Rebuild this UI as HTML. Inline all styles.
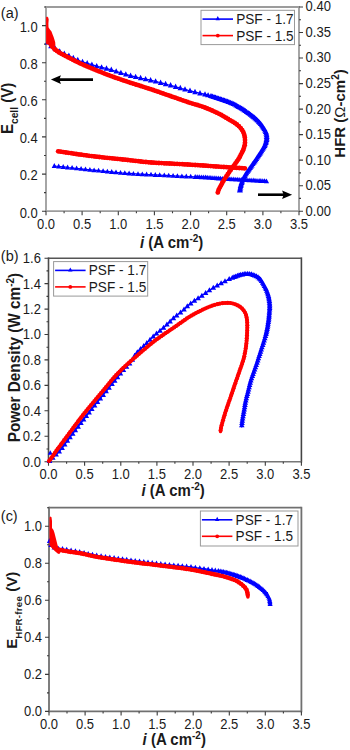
<!DOCTYPE html>
<html><head><meta charset="utf-8"><title>Figure</title>
<style>html,body{margin:0;padding:0;background:#fff;width:350px;height:750px;overflow:hidden}svg{display:block;font-family:"Liberation Sans",sans-serif}</style>
</head><body><svg width="350" height="750" viewBox="0 0 350 750" font-family="Liberation Sans, sans-serif"><path d="M46.0 6.1V212.1" stroke="#9c9c9c" stroke-width="1.8"/><path d="M299.0 6.1V212.1" stroke="#9c9c9c" stroke-width="1.8"/><path d="M46.0 7.0H299.0" stroke="#9c9c9c" stroke-width="1.8"/><path d="M46.0 211.2H299.0" stroke="#9c9c9c" stroke-width="1.8"/><path d="M46.0 211.2V215.2M64.1 211.2V213.2M82.1 211.2V215.2M100.2 211.2V213.2M118.3 211.2V215.2M136.4 211.2V213.2M154.4 211.2V215.2M172.5 211.2V213.2M190.6 211.2V215.2M208.6 211.2V213.2M226.7 211.2V215.2M244.8 211.2V213.2M262.9 211.2V215.2M280.9 211.2V213.2M299.0 211.2V215.2M46.0 211.2H42.0M46.0 192.6H44.0M46.0 174.1H42.0M46.0 155.5H44.0M46.0 136.9H42.0M46.0 118.4H44.0M46.0 99.8H42.0M46.0 81.3H44.0M46.0 62.7H42.0M46.0 44.1H44.0M46.0 25.6H42.0M46.0 7.0H44.0M299.0 211.2H303.0M299.0 198.4H301.0M299.0 185.7H303.0M299.0 172.9H301.0M299.0 160.1H303.0M299.0 147.4H301.0M299.0 134.6H303.0M299.0 121.9H301.0M299.0 109.1H303.0M299.0 96.3H301.0M299.0 83.6H303.0M299.0 70.8H301.0M299.0 58.0H303.0M299.0 45.3H301.0M299.0 32.5H303.0M299.0 19.8H301.0M299.0 7.0H303.0" stroke="#3a3a3a" stroke-width="1.1" fill="none"/><text transform="translate(46.00,228.50) scale(1,1.070)" font-size="13.0" text-anchor="middle" fill="#1a1a1a" >0.0</text><text transform="translate(82.14,228.50) scale(1,1.070)" font-size="13.0" text-anchor="middle" fill="#1a1a1a" >0.5</text><text transform="translate(118.29,228.50) scale(1,1.070)" font-size="13.0" text-anchor="middle" fill="#1a1a1a" >1.0</text><text transform="translate(154.43,228.50) scale(1,1.070)" font-size="13.0" text-anchor="middle" fill="#1a1a1a" >1.5</text><text transform="translate(190.57,228.50) scale(1,1.070)" font-size="13.0" text-anchor="middle" fill="#1a1a1a" >2.0</text><text transform="translate(226.71,228.50) scale(1,1.070)" font-size="13.0" text-anchor="middle" fill="#1a1a1a" >2.5</text><text transform="translate(262.86,228.50) scale(1,1.070)" font-size="13.0" text-anchor="middle" fill="#1a1a1a" >3.0</text><text transform="translate(299.00,228.50) scale(1,1.070)" font-size="13.0" text-anchor="middle" fill="#1a1a1a" >3.5</text><text transform="translate(37.70,217.50) scale(1,1.070)" font-size="13.0" text-anchor="end" fill="#1a1a1a" >0.0</text><text transform="translate(37.70,180.37) scale(1,1.070)" font-size="13.0" text-anchor="end" fill="#1a1a1a" >0.2</text><text transform="translate(37.70,143.25) scale(1,1.070)" font-size="13.0" text-anchor="end" fill="#1a1a1a" >0.4</text><text transform="translate(37.70,106.12) scale(1,1.070)" font-size="13.0" text-anchor="end" fill="#1a1a1a" >0.6</text><text transform="translate(37.70,68.99) scale(1,1.070)" font-size="13.0" text-anchor="end" fill="#1a1a1a" >0.8</text><text transform="translate(37.70,31.86) scale(1,1.070)" font-size="13.0" text-anchor="end" fill="#1a1a1a" >1.0</text><text transform="translate(305.60,215.60) scale(1,1.070)" font-size="13.0" text-anchor="start" fill="#1a1a1a" >0.00</text><text transform="translate(305.60,190.07) scale(1,1.070)" font-size="13.0" text-anchor="start" fill="#1a1a1a" >0.05</text><text transform="translate(305.60,164.55) scale(1,1.070)" font-size="13.0" text-anchor="start" fill="#1a1a1a" >0.10</text><text transform="translate(305.60,139.03) scale(1,1.070)" font-size="13.0" text-anchor="start" fill="#1a1a1a" >0.15</text><text transform="translate(305.60,113.50) scale(1,1.070)" font-size="13.0" text-anchor="start" fill="#1a1a1a" >0.20</text><text transform="translate(305.60,87.98) scale(1,1.070)" font-size="13.0" text-anchor="start" fill="#1a1a1a" >0.25</text><text transform="translate(305.60,62.45) scale(1,1.070)" font-size="13.0" text-anchor="start" fill="#1a1a1a" >0.30</text><text transform="translate(305.60,36.93) scale(1,1.070)" font-size="13.0" text-anchor="start" fill="#1a1a1a" >0.35</text><text transform="translate(305.60,11.40) scale(1,1.070)" font-size="13.0" text-anchor="start" fill="#1a1a1a" >0.40</text><text transform="translate(0.80,18.40) scale(1,1.050)" font-size="14.5" text-anchor="start" fill="#1a1a1a" >(a)</text><g fill="#0000ff"><polyline points="47.8,42.3 47.9,42.4 48.0,42.6 48.1,42.8 48.2,43.0 48.4,43.2 48.5,43.5 48.7,43.8 48.9,44.0 49.1,44.3 49.4,44.6 49.7,44.9 50.0,45.2 50.4,45.5 50.8,45.8 51.3,46.2 51.8,46.5 52.3,46.9 52.9,47.3 53.4,47.7 54.0,48.0 54.6,48.4 55.1,48.7 55.6,49.0 56.0,49.3 56.4,49.5 56.7,49.8 57.0,49.9 57.3,50.1 57.5,50.3 57.8,50.4 58.0,50.6 58.3,50.7 58.6,50.9 59.0,51.1 59.5,51.3 60.0,51.6 60.6,51.9 61.3,52.3 62.1,52.6 62.9,53.0 63.7,53.4 64.6,53.9 65.5,54.3 66.4,54.7 67.4,55.2 68.3,55.6 69.1,56.0 70.0,56.4 70.8,56.8 71.7,57.2 72.5,57.6 73.3,58.0 74.2,58.4 75.0,58.8 75.8,59.2 76.7,59.6 77.5,60.0 78.3,60.3 79.2,60.7 80.0,61.0 80.8,61.3 81.7,61.6 82.5,61.9 83.3,62.2 84.2,62.5 85.0,62.7 85.8,63.0 86.7,63.2 87.5,63.5 88.3,63.7 89.2,64.0 90.0,64.2 90.8,64.4 91.7,64.7 92.5,64.9 93.3,65.2 94.2,65.4 95.0,65.6 95.8,65.9 96.7,66.1 97.5,66.3 98.3,66.6 99.2,66.8 100.0,67.0 100.8,67.2 101.6,67.4 102.3,67.6 103.0,67.7 103.7,67.9 104.4,68.0 105.1,68.2 105.9,68.4 106.8,68.6 107.8,68.9 108.8,69.2 110.0,69.5 111.3,69.9 112.8,70.3 114.3,70.8 115.9,71.3 117.6,71.9 119.4,72.4 121.2,73.0 123.0,73.6 124.8,74.1 126.6,74.6 128.3,75.1 130.0,75.6 131.7,76.0 133.3,76.4 135.0,76.8 136.7,77.2 138.3,77.6 140.0,77.9 141.7,78.3 143.3,78.6 145.0,79.0 146.7,79.3 148.3,79.7 150.0,80.1 151.7,80.5 153.3,80.9 155.0,81.3 156.7,81.7 158.3,82.2 160.0,82.6 161.7,83.0 163.3,83.4 165.0,83.9 166.7,84.3 168.3,84.8 170.0,85.2 171.7,85.7 173.3,86.1 175.0,86.6 176.7,87.1 178.3,87.5 180.0,88.0 181.7,88.5 183.3,89.0 185.0,89.4 186.7,89.9 188.3,90.4 190.0,90.8 191.7,91.2 193.3,91.6 195.0,92.1 196.7,92.4 198.3,92.8 200.0,93.2 201.7,93.6 203.3,94.0 205.0,94.4 206.7,94.9 208.3,95.3 210.0,95.8 211.7,96.3 213.4,96.8 215.2,97.4 217.0,98.0 218.8,98.6 220.6,99.1 222.4,99.7 224.1,100.3 225.7,100.9 227.2,101.5 228.7,102.0 230.0,102.5 231.2,103.0 232.2,103.4 233.2,103.8 234.1,104.2 234.9,104.6 235.6,105.0 236.3,105.4 237.0,105.8 237.7,106.2 238.4,106.6 239.2,107.0 240.0,107.5 240.8,108.0 241.7,108.5 242.5,109.1 243.4,109.6 244.3,110.2 245.1,110.7 246.0,111.3 246.8,111.9 247.6,112.5 248.4,113.1 249.2,113.6 250.0,114.2 250.7,114.8 251.5,115.3 252.2,115.9 252.9,116.5 253.6,117.1 254.3,117.6 255.0,118.2 255.6,118.8 256.3,119.4 256.9,119.9 257.4,120.5 258.0,121.0 258.5,121.5 259.0,122.1 259.5,122.6 260.0,123.1 260.4,123.6 260.8,124.1 261.2,124.6 261.6,125.1 262.0,125.6 262.3,126.0 262.7,126.5 263.0,127.0 263.3,127.5 263.6,127.9 263.9,128.4 264.2,128.9 264.5,129.3 264.8,129.8 265.0,130.2 265.2,130.7 265.5,131.1 265.7,131.6 265.8,132.0 266.0,132.5 266.1,133.0 266.3,133.4 266.4,133.9 266.5,134.3 266.6,134.8 266.6,135.2 266.7,135.7 266.7,136.1 266.7,136.6 266.7,137.1 266.7,137.5 266.7,138.0 266.7,138.5 266.6,139.0 266.5,139.5 266.5,140.0 266.4,140.5 266.2,141.0 266.1,141.5 266.0,142.0 265.8,142.5 265.7,143.0 265.5,143.5 265.3,144.0 265.1,144.5 264.9,145.0 264.7,145.4 264.5,145.9 264.2,146.3 264.0,146.8 263.7,147.2 263.4,147.7 263.1,148.2 262.8,148.8 262.4,149.4 262.0,150.0 261.6,150.7 261.1,151.4 260.6,152.2 260.1,153.0 259.5,153.9 259.0,154.8 258.4,155.6 257.8,156.5 257.2,157.4 256.6,158.3 256.1,159.2 255.5,160.0 254.9,160.8 254.3,161.7 253.7,162.6 253.1,163.4 252.5,164.3 251.9,165.2 251.3,166.0 250.7,166.9 250.1,167.7 249.5,168.5 249.0,169.3 248.5,170.0 248.0,170.7 247.6,171.4 247.1,172.0 246.7,172.6 246.3,173.2 246.0,173.8 245.6,174.3 245.3,174.9 244.9,175.4 244.6,175.9 244.3,176.5 244.0,177.0 243.7,177.5 243.5,178.1 243.2,178.6 243.0,179.1 242.8,179.6 242.6,180.2 242.4,180.7 242.2,181.1 242.1,181.6 241.9,182.1 241.8,182.6 241.6,183.0 241.5,183.4 241.3,183.8 241.2,184.3 241.1,184.6 241.0,185.0 240.9,185.4 240.8,185.8 240.7,186.1 240.6,186.5 240.5,186.8 240.5,187.2 240.4,187.5 240.3,187.8 240.3,188.2 240.2,188.5 240.2,188.9 240.1,189.2 240.1,189.5 240.0,189.8 240.0,190.1 240.0,190.4 239.9,190.6 239.9,190.8 239.9,191.0" fill="none" stroke="#0000ff" stroke-width="1.3" stroke-linejoin="round"/><path d="M47.8 39.1L50.6 44.5L45.0 44.5ZM51.0 42.8L53.8 48.2L48.2 48.2ZM55.3 45.6L58.1 51.0L52.5 51.0ZM59.7 48.2L62.5 53.6L56.9 53.6ZM64.3 50.5L67.1 55.9L61.5 55.9ZM68.9 52.6L71.7 58.0L66.1 58.0ZM73.3 54.8L76.1 60.2L70.5 60.2ZM77.8 56.8L80.6 62.2L75.0 62.2ZM82.5 58.7L85.3 64.1L79.7 64.1ZM87.2 60.1L90.0 65.5L84.4 65.5ZM91.9 61.5L94.7 66.9L89.1 66.9ZM96.7 62.9L99.5 68.3L93.9 68.3ZM101.6 64.2L104.4 69.6L98.8 69.6ZM106.5 65.3L109.3 70.7L103.7 70.7ZM111.3 66.6L114.1 72.0L108.5 72.0ZM116.2 68.2L119.0 73.6L113.4 73.6ZM120.9 69.7L123.7 75.1L118.1 75.1ZM125.8 71.2L128.6 76.6L123.0 76.6ZM130.6 72.5L133.4 77.9L127.8 77.9ZM135.6 73.7L138.4 79.1L132.8 79.1ZM140.6 74.8L143.4 80.2L137.8 80.2ZM145.6 75.9L148.4 81.3L142.8 81.3ZM150.6 77.0L153.4 82.4L147.8 82.4ZM155.6 78.2L158.4 83.6L152.8 83.6ZM160.6 79.5L163.4 84.9L157.8 84.9ZM165.6 80.8L168.4 86.2L162.8 86.2ZM170.6 82.1L173.4 87.5L167.8 87.5ZM175.6 83.5L178.4 88.9L172.8 88.9ZM180.3 84.8L183.1 90.2L177.5 90.2ZM185.0 86.2L187.8 91.6L182.2 91.6ZM190.0 87.6L192.8 93.0L187.2 93.0ZM195.0 88.8L197.8 94.2L192.2 94.2ZM200.0 90.0L202.8 95.4L197.2 95.4ZM205.0 91.2L207.8 96.6L202.2 96.6ZM208.1 92.3L211.1 97.3L205.1 97.3ZM211.0 93.1L214.0 98.1L208.0 98.1ZM212.4 93.5L215.4 98.5L209.4 98.5ZM214.0 94.0L217.0 99.0L211.0 99.0ZM215.5 94.5L218.5 99.5L212.5 99.5ZM217.0 95.0L220.0 100.0L214.0 100.0ZM218.6 95.5L221.6 100.5L215.6 100.5ZM220.1 96.0L223.1 101.0L217.1 101.0ZM221.6 96.5L224.6 101.5L218.6 101.5ZM223.1 97.0L226.1 102.0L220.1 102.0ZM224.6 97.5L227.6 102.5L221.6 102.5ZM226.0 98.0L229.0 103.0L223.0 103.0ZM227.5 98.6L230.5 103.6L224.5 103.6ZM228.9 99.1L231.9 104.1L225.9 104.1ZM230.5 99.7L233.5 104.7L227.5 104.7ZM232.0 100.3L235.0 105.3L229.0 105.3ZM233.5 101.0L236.5 106.0L230.5 106.0ZM234.9 101.6L237.9 106.6L231.9 106.6ZM236.3 102.4L239.3 107.4L233.3 107.4ZM237.7 103.2L240.7 108.2L234.7 108.2ZM238.9 103.9L241.9 108.9L235.9 108.9ZM240.3 104.7L243.3 109.7L237.3 109.7ZM241.7 105.5L244.7 110.5L238.7 110.5ZM243.0 106.3L246.0 111.3L240.0 111.3ZM244.3 107.2L247.3 112.2L241.3 112.2ZM245.6 108.0L248.6 113.0L242.6 113.0ZM246.8 108.9L249.8 113.9L243.8 113.9ZM248.2 109.9L251.2 114.9L245.2 114.9ZM249.5 110.8L252.5 115.8L246.5 115.8ZM250.7 111.8L253.7 116.8L247.7 116.8ZM252.0 112.7L255.0 117.7L249.0 117.7ZM253.2 113.7L256.2 118.7L250.2 118.7ZM254.3 114.6L257.3 119.6L251.3 119.6ZM255.4 115.6L258.4 120.6L252.4 120.6ZM256.5 116.5L259.5 121.5L253.5 121.5ZM257.6 117.6L260.6 122.6L254.6 122.6ZM258.8 118.8L261.8 123.8L255.8 123.8ZM259.7 119.8L262.7 124.8L256.7 124.8ZM260.8 121.1L263.8 126.1L257.8 126.1ZM261.8 122.3L264.8 127.3L258.8 127.3ZM262.7 123.5L265.7 128.5L259.7 128.5ZM263.5 124.7L266.5 129.7L260.5 129.7ZM264.4 126.1L267.4 131.1L261.4 131.1ZM265.1 127.5L268.1 132.5L262.1 132.5ZM265.8 129.0L268.8 134.0L262.8 134.0ZM266.3 130.4L269.3 135.4L263.3 135.4ZM266.6 132.2L269.6 137.2L263.6 137.2ZM266.7 134.1L269.7 139.1L263.7 139.1ZM266.7 135.5L269.7 140.5L263.7 140.5ZM266.5 137.0L269.5 142.0L263.5 142.0ZM266.1 138.5L269.1 143.5L263.1 143.5ZM265.7 140.0L268.7 145.0L262.7 145.0ZM265.1 141.5L268.1 146.5L262.1 146.5ZM264.5 142.9L267.5 147.9L261.5 147.9ZM263.7 144.2L266.7 149.2L260.7 149.2ZM262.9 145.5L265.9 150.5L259.9 150.5ZM262.1 146.8L265.1 151.8L259.1 151.8ZM261.3 148.2L264.3 153.2L258.3 153.2ZM260.4 149.5L263.4 154.5L257.4 154.5ZM259.7 150.7L262.7 155.7L256.7 155.7ZM258.8 152.0L261.8 157.0L255.8 157.0ZM258.0 153.3L261.0 158.3L255.0 158.3ZM257.1 154.6L260.1 159.6L254.1 159.6ZM256.2 155.9L259.2 160.9L253.2 160.9ZM255.4 157.2L258.4 162.2L252.4 162.2ZM254.5 158.5L257.5 163.5L251.5 163.5ZM253.6 159.8L256.6 164.8L250.6 164.8ZM252.6 161.1L255.6 166.1L249.6 166.1ZM251.7 162.4L254.7 167.4L248.7 167.4ZM250.8 163.7L253.8 168.7L247.8 168.7ZM249.9 165.0L252.9 170.0L246.9 170.0ZM249.0 166.3L252.0 171.3L246.0 171.3ZM248.2 167.5L251.2 172.5L245.2 172.5ZM247.3 168.8L250.3 173.8L244.3 173.8ZM246.3 170.2L249.3 175.2L243.3 175.2ZM245.4 171.6L248.4 176.6L242.4 176.6ZM244.6 172.9L247.6 177.9L241.6 177.9ZM243.9 174.3L246.9 179.3L240.9 179.3ZM243.2 175.6L246.2 180.6L240.2 180.6ZM242.7 176.9L245.7 181.9L239.7 181.9ZM242.1 178.4L245.1 183.4L239.1 183.4ZM241.6 180.0L244.6 185.0L238.6 185.0ZM241.1 181.6L244.1 186.6L238.1 186.6ZM240.7 183.1L243.7 188.1L237.7 188.1ZM240.4 184.5L243.4 189.5L237.4 189.5ZM240.1 186.2L243.1 191.2L237.1 191.2ZM239.9 187.6L242.9 192.6L236.9 192.6Z"/></g><g fill="#0000ff"><polyline points="54.3,166.0 55.9,166.2 57.9,166.4 60.3,166.6 63.0,166.9 65.8,167.2 68.9,167.6 72.1,167.9 75.3,168.3 78.6,168.6 81.9,169.0 85.0,169.3 88.0,169.6 90.9,169.9 93.9,170.2 96.8,170.5 99.8,170.8 102.8,171.1 105.9,171.4 108.9,171.7 111.9,172.0 114.9,172.3 118.0,172.6 121.0,172.9 124.0,173.1 127.0,173.3 130.0,173.5 132.9,173.7 135.9,173.9 138.8,174.1 141.8,174.2 144.7,174.4 147.7,174.6 150.7,174.7 153.8,174.9 156.9,175.0 160.0,175.2 163.2,175.4 166.6,175.5 170.1,175.7 173.6,175.9 177.1,176.1 180.7,176.2 184.2,176.4 187.6,176.6 191.0,176.7 194.2,176.9 197.2,177.0 200.0,177.2 202.6,177.3 204.8,177.5 206.9,177.6 208.8,177.8 210.6,177.9 212.4,178.0 214.1,178.2 216.0,178.3 217.9,178.4 220.0,178.6 222.4,178.7 225.0,178.9 228.0,179.1 231.5,179.3 235.3,179.5 239.3,179.7 243.4,180.0 247.6,180.2 251.6,180.4 255.5,180.7 259.1,180.9 262.2,181.0 264.9,181.2 267.0,181.3" fill="none" stroke="#0000ff" stroke-width="1.3" stroke-linejoin="round"/><path d="M54.3 163.1L56.9 167.9L51.7 167.9ZM58.7 163.6L61.3 168.4L56.1 168.4ZM63.2 164.1L65.8 168.9L60.6 168.9ZM67.6 164.6L70.2 169.4L65.0 169.4ZM72.1 165.0L74.7 169.8L69.5 169.8ZM76.6 165.5L79.2 170.3L74.0 170.3ZM81.1 166.0L83.7 170.8L78.5 170.8ZM85.5 166.5L88.1 171.3L82.9 171.3ZM89.9 166.9L92.5 171.7L87.3 171.7ZM94.1 167.4L96.7 172.2L91.5 172.2ZM98.6 167.8L101.2 172.6L96.0 172.6ZM103.1 168.3L105.7 173.1L100.5 173.1ZM107.4 168.7L110.0 173.5L104.8 173.5ZM111.7 169.1L114.3 173.9L109.1 173.9ZM116.0 169.5L118.6 174.3L113.4 174.3ZM120.5 169.9L123.1 174.7L117.9 174.7ZM124.8 170.3L127.4 175.1L122.2 175.1ZM129.1 170.6L131.7 175.4L126.5 175.4ZM133.4 170.9L136.0 175.7L130.8 175.7ZM138.0 171.2L140.6 176.0L135.4 176.0ZM142.3 171.4L144.9 176.2L139.7 176.2ZM146.6 171.6L149.2 176.4L144.0 176.4ZM151.0 171.8L153.6 176.6L148.4 176.6ZM155.3 172.1L157.9 176.9L152.7 176.9ZM159.7 172.3L162.3 177.1L157.1 177.1ZM164.3 172.5L166.9 177.3L161.7 177.3ZM168.7 172.8L171.3 177.6L166.1 177.6ZM173.1 173.0L175.7 177.8L170.5 177.8ZM177.4 173.2L180.0 178.0L174.8 178.0ZM181.9 173.4L184.5 178.2L179.3 178.2ZM186.3 173.6L188.9 178.4L183.7 178.4ZM190.7 173.8L193.3 178.6L188.1 178.6ZM195.2 174.1L197.8 178.9L192.6 178.9ZM197.2 174.2L199.8 179.0L194.6 179.0ZM199.2 174.3L201.8 179.1L196.6 179.1ZM201.3 174.4L203.9 179.2L198.7 179.2ZM203.3 174.5L205.9 179.3L200.7 179.3ZM205.4 174.6L208.0 179.4L202.8 179.4ZM207.2 174.8L209.8 179.6L204.6 179.6ZM209.1 174.9L211.7 179.7L206.5 179.7ZM210.9 175.0L213.5 179.8L208.3 179.8ZM212.9 175.2L215.5 180.0L210.3 180.0ZM214.9 175.3L217.5 180.1L212.3 180.1ZM216.8 175.5L219.4 180.3L214.2 180.3ZM218.7 175.6L221.3 180.4L216.1 180.4ZM220.5 175.7L223.1 180.5L217.9 180.5ZM222.4 175.9L225.0 180.7L219.8 180.7ZM224.2 176.0L226.8 180.8L221.6 180.8ZM226.0 176.1L228.6 180.9L223.4 180.9ZM228.0 176.2L230.6 181.0L225.4 181.0ZM229.9 176.3L232.5 181.1L227.3 181.1ZM231.8 176.4L234.4 181.2L229.2 181.2ZM233.8 176.5L236.4 181.3L231.2 181.3ZM235.8 176.7L238.4 181.5L233.2 181.5ZM237.8 176.8L240.4 181.6L235.2 181.6ZM239.8 176.9L242.4 181.7L237.2 181.7ZM241.6 177.0L244.2 181.8L239.0 181.8ZM243.4 177.1L246.0 181.9L240.8 181.9ZM245.2 177.2L247.8 182.0L242.6 182.0ZM247.0 177.3L249.6 182.1L244.4 182.1ZM249.1 177.4L251.7 182.2L246.5 182.2ZM251.1 177.5L253.7 182.3L248.5 182.3ZM253.2 177.6L255.8 182.4L250.6 182.4ZM255.0 177.7L257.6 182.5L252.4 182.5ZM257.0 177.9L259.6 182.7L254.4 182.7ZM259.1 178.0L261.7 182.8L256.5 182.8ZM260.9 178.1L263.5 182.9L258.3 182.9ZM262.8 178.2L265.4 183.0L260.2 183.0ZM264.6 178.3L267.2 183.1L262.0 183.1ZM266.5 178.4L269.1 183.2L263.9 183.2Z"/></g><polygon points="46.1,17.2 47.0,16.5 48.2,17.4 48.7,19.5 48.4,23.6 48.5,27.3 49.9,29.5 51.5,31.6 52.5,34.3 53.6,36.9 54.4,39.6 55.2,42.3 55.4,44.9 55.2,46.5 56.2,47.4 57.3,48.1 57.6,51.8 55.0,51.6 52.0,49.6 50.0,47.8 48.2,44.6 46.1,44.2" fill="#ff0000"/><g fill="#ff0000"><polyline points="54.8,49.6 55.1,49.8 55.4,50.0 55.8,50.2 56.2,50.5 56.7,50.8 57.1,51.2 57.7,51.5 58.2,51.8 58.7,52.2 59.1,52.5 59.6,52.7 60.0,53.0 60.4,53.2 60.7,53.4 61.0,53.6 61.3,53.8 61.7,54.0 62.0,54.1 62.3,54.3 62.6,54.4 62.9,54.6 63.2,54.8 63.6,55.0 64.0,55.2 64.4,55.4 64.8,55.6 65.3,55.9 65.7,56.1 66.2,56.3 66.6,56.6 67.1,56.8 67.6,57.1 68.2,57.4 68.7,57.7 69.4,58.0 70.0,58.3 70.7,58.7 71.4,59.0 72.2,59.4 73.0,59.9 73.9,60.3 74.8,60.7 75.6,61.2 76.5,61.6 77.4,62.1 78.3,62.5 79.2,62.9 80.0,63.3 80.8,63.7 81.6,64.0 82.3,64.3 83.0,64.6 83.7,64.9 84.4,65.3 85.1,65.6 85.9,65.9 86.8,66.3 87.8,66.7 88.8,67.1 90.0,67.6 91.3,68.1 92.8,68.7 94.3,69.4 95.9,70.1 97.6,70.8 99.4,71.5 101.2,72.2 103.0,72.9 104.8,73.7 106.6,74.4 108.3,75.1 110.0,75.7 111.7,76.3 113.3,76.9 115.0,77.5 116.7,78.1 118.3,78.7 120.0,79.3 121.7,79.8 123.3,80.4 125.0,80.9 126.7,81.5 128.3,82.0 130.0,82.6 131.7,83.1 133.3,83.7 135.0,84.2 136.7,84.8 138.3,85.3 140.0,85.8 141.7,86.3 143.3,86.8 145.0,87.4 146.7,87.9 148.3,88.5 150.0,89.0 151.7,89.6 153.3,90.1 155.0,90.7 156.7,91.3 158.3,91.8 160.0,92.4 161.7,93.0 163.3,93.6 165.0,94.2 166.7,94.7 168.3,95.3 170.0,95.9 171.7,96.5 173.4,97.1 175.2,97.7 177.0,98.3 178.8,99.0 180.6,99.6 182.4,100.2 184.1,100.8 185.7,101.3 187.2,101.9 188.7,102.4 190.0,102.8 191.2,103.2 192.2,103.5 193.2,103.8 194.1,104.1 194.9,104.3 195.6,104.5 196.3,104.7 197.0,104.9 197.7,105.1 198.4,105.3 199.2,105.5 200.0,105.8 200.8,106.1 201.7,106.4 202.5,106.7 203.3,107.0 204.2,107.3 205.0,107.6 205.8,107.9 206.7,108.2 207.5,108.6 208.3,108.9 209.2,109.2 210.0,109.6 210.8,110.0 211.7,110.3 212.5,110.7 213.4,111.1 214.2,111.5 215.1,111.9 215.9,112.3 216.8,112.7 217.6,113.1 218.4,113.5 219.2,113.9 220.0,114.3 220.8,114.7 221.5,115.1 222.3,115.6 223.1,116.0 223.8,116.4 224.5,116.8 225.2,117.3 225.9,117.7 226.6,118.1 227.3,118.5 228.0,118.9 228.6,119.3 229.2,119.7 229.8,120.0 230.4,120.4 231.0,120.7 231.5,121.0 232.1,121.3 232.6,121.7 233.1,122.0 233.6,122.3 234.1,122.6 234.5,122.9 235.0,123.2 235.4,123.5 235.9,123.8 236.3,124.1 236.7,124.4 237.1,124.7 237.5,125.0 237.8,125.3 238.2,125.6 238.5,125.9 238.9,126.2 239.2,126.5 239.5,126.8 239.8,127.1 240.1,127.4 240.4,127.7 240.7,128.0 240.9,128.3 241.2,128.7 241.4,129.0 241.6,129.3 241.9,129.6 242.1,129.9 242.3,130.3 242.5,130.6 242.7,130.9 242.9,131.3 243.1,131.6 243.2,132.0 243.4,132.4 243.5,132.7 243.7,133.1 243.8,133.5 244.0,133.8 244.1,134.2 244.2,134.6 244.3,135.0 244.4,135.4 244.5,135.8 244.6,136.2 244.7,136.6 244.7,137.0 244.8,137.5 244.8,137.9 244.9,138.3 244.9,138.7 245.0,139.2 245.0,139.6 245.0,140.0 245.0,140.4 245.0,140.8 245.0,141.2 245.0,141.7 245.0,142.1 245.0,142.5 245.0,142.9 244.9,143.3 244.9,143.8 244.8,144.2 244.8,144.6 244.7,145.0 244.6,145.4 244.5,145.8 244.4,146.2 244.3,146.7 244.2,147.1 244.1,147.5 244.0,147.9 243.8,148.3 243.7,148.8 243.5,149.2 243.4,149.6 243.2,150.0 243.0,150.4 242.8,150.8 242.7,151.2 242.5,151.7 242.2,152.1 242.0,152.5 241.8,152.9 241.6,153.3 241.4,153.8 241.1,154.2 240.9,154.6 240.7,155.0 240.5,155.4 240.3,155.8 240.1,156.1 240.0,156.5 239.8,156.8 239.6,157.2 239.4,157.6 239.2,158.0 238.9,158.4 238.6,158.9 238.3,159.4 237.9,160.0 237.5,160.7 236.9,161.4 236.4,162.1 235.8,163.0 235.2,163.8 234.5,164.7 233.9,165.6 233.2,166.5 232.6,167.4 231.9,168.3 231.3,169.2 230.7,170.0 230.1,170.8 229.5,171.7 229.0,172.5 228.4,173.3 227.8,174.2 227.2,175.0 226.7,175.8 226.1,176.7 225.6,177.5 225.0,178.3 224.5,179.2 224.0,180.0 223.5,180.9 223.0,181.8 222.5,182.7 221.9,183.6 221.4,184.5 220.9,185.5 220.5,186.4 220.0,187.2 219.6,188.0 219.2,188.8 218.9,189.4 218.6,190.0 218.4,190.5 218.2,190.9 218.1,191.2 218.0,191.5 217.9,191.7 217.9,191.9 217.8,192.1 217.8,192.2 217.8,192.3 217.8,192.4 217.8,192.5 217.8,192.6" fill="none" stroke="#ff0000" stroke-width="3.7" stroke-linejoin="round" stroke-linecap="round"/><circle cx="54.8" cy="49.6" r="2.4"/><circle cx="57.0" cy="51.0" r="2.4"/><circle cx="59.1" cy="52.5" r="2.4"/><circle cx="61.4" cy="53.8" r="2.4"/><circle cx="63.7" cy="55.0" r="2.4"/><circle cx="66.0" cy="56.2" r="2.4"/><circle cx="68.3" cy="57.4" r="2.4"/><circle cx="70.6" cy="58.6" r="2.4"/><circle cx="72.9" cy="59.8" r="2.4"/><circle cx="75.2" cy="61.0" r="2.4"/><circle cx="77.6" cy="62.1" r="2.4"/><circle cx="79.9" cy="63.3" r="2.4"/><circle cx="82.3" cy="64.3" r="2.4"/><circle cx="84.6" cy="65.4" r="2.4"/><circle cx="87.0" cy="66.4" r="2.4"/><circle cx="89.4" cy="67.4" r="2.4"/><circle cx="91.8" cy="68.4" r="2.4"/><circle cx="94.2" cy="69.4" r="2.4"/><circle cx="96.6" cy="70.4" r="2.4"/><circle cx="99.1" cy="71.4" r="2.4"/><circle cx="101.5" cy="72.3" r="2.4"/><circle cx="103.9" cy="73.3" r="2.4"/><circle cx="106.3" cy="74.3" r="2.4"/><circle cx="108.7" cy="75.2" r="2.4"/><circle cx="111.1" cy="76.1" r="2.4"/><circle cx="113.6" cy="77.0" r="2.4"/><circle cx="116.0" cy="77.9" r="2.4"/><circle cx="118.5" cy="78.7" r="2.4"/><circle cx="121.0" cy="79.6" r="2.4"/><circle cx="123.4" cy="80.4" r="2.4"/><circle cx="125.9" cy="81.2" r="2.4"/><circle cx="128.4" cy="82.1" r="2.4"/><circle cx="130.8" cy="82.9" r="2.4"/><circle cx="133.3" cy="83.7" r="2.4"/><circle cx="135.8" cy="84.5" r="2.4"/><circle cx="138.2" cy="85.2" r="2.4"/><circle cx="140.7" cy="86.0" r="2.4"/><circle cx="143.2" cy="86.8" r="2.4"/><circle cx="145.7" cy="87.6" r="2.4"/><circle cx="148.2" cy="88.4" r="2.4"/><circle cx="150.6" cy="89.2" r="2.4"/><circle cx="153.1" cy="90.0" r="2.4"/><circle cx="155.6" cy="90.9" r="2.4"/><circle cx="158.0" cy="91.7" r="2.4"/><circle cx="160.5" cy="92.6" r="2.4"/><circle cx="162.9" cy="93.4" r="2.4"/><circle cx="165.4" cy="94.3" r="2.4"/><circle cx="167.8" cy="95.1" r="2.4"/><circle cx="170.3" cy="96.0" r="2.4"/><circle cx="172.7" cy="96.9" r="2.4"/><circle cx="175.2" cy="97.7" r="2.4"/><circle cx="177.7" cy="98.6" r="2.4"/><circle cx="180.1" cy="99.4" r="2.4"/><circle cx="182.6" cy="100.3" r="2.4"/><circle cx="185.0" cy="101.1" r="2.4"/><circle cx="187.5" cy="102.0" r="2.4"/><circle cx="190.0" cy="102.8" r="2.4"/><circle cx="192.4" cy="103.6" r="2.4"/><circle cx="194.9" cy="104.3" r="2.4"/><circle cx="197.4" cy="105.0" r="2.4"/><circle cx="199.9" cy="105.8" r="2.4"/><circle cx="202.4" cy="106.6" r="2.4"/><circle cx="204.8" cy="107.5" r="2.4"/><circle cx="207.2" cy="108.5" r="2.4"/><circle cx="209.6" cy="109.4" r="2.4"/><circle cx="212.0" cy="110.5" r="2.4"/><circle cx="214.4" cy="111.6" r="2.4"/><circle cx="216.7" cy="112.7" r="2.4"/><circle cx="219.1" cy="113.8" r="2.4"/><circle cx="221.4" cy="115.0" r="2.4"/><circle cx="223.6" cy="116.3" r="2.4"/><circle cx="225.9" cy="117.7" r="2.4"/><circle cx="228.1" cy="119.0" r="2.4"/><circle cx="230.3" cy="120.3" r="2.4"/><circle cx="232.6" cy="121.6" r="2.4"/><circle cx="234.8" cy="123.0" r="2.4"/><circle cx="236.9" cy="124.5" r="2.4"/><circle cx="238.9" cy="126.2" r="2.4"/><circle cx="240.7" cy="128.1" r="2.4"/><circle cx="242.2" cy="130.2" r="2.4"/><circle cx="243.4" cy="132.5" r="2.4"/><circle cx="244.3" cy="134.9" r="2.4"/><circle cx="244.8" cy="137.5" r="2.4"/><circle cx="245.0" cy="140.1" r="2.4"/><circle cx="245.0" cy="142.7" r="2.4"/><circle cx="244.7" cy="145.2" r="2.4"/><circle cx="244.0" cy="147.7" r="2.4"/><circle cx="243.1" cy="150.2" r="2.4"/><circle cx="242.0" cy="152.5" r="2.4"/><circle cx="240.8" cy="154.8" r="2.4"/><circle cx="239.6" cy="157.2" r="2.4"/><circle cx="238.3" cy="159.4" r="2.4"/><circle cx="236.8" cy="161.5" r="2.4"/><circle cx="235.3" cy="163.7" r="2.4"/><circle cx="233.8" cy="165.7" r="2.4"/><circle cx="232.2" cy="167.8" r="2.4"/><circle cx="230.7" cy="170.0" r="2.4"/><circle cx="229.2" cy="172.1" r="2.4"/><circle cx="227.8" cy="174.2" r="2.4"/><circle cx="226.3" cy="176.4" r="2.4"/><circle cx="224.9" cy="178.6" r="2.4"/><circle cx="223.5" cy="180.8" r="2.4"/><circle cx="222.2" cy="183.0" r="2.4"/><circle cx="221.0" cy="185.3" r="2.4"/><circle cx="219.8" cy="187.6" r="2.4"/><circle cx="218.6" cy="190.0" r="2.4"/><circle cx="217.8" cy="192.4" r="2.4"/></g><g fill="#ff0000"><polyline points="58.2,151.3 59.7,151.5 61.6,151.8 63.9,152.1 66.4,152.5 69.1,152.9 72.0,153.4 75.0,153.8 78.1,154.3 81.2,154.7 84.2,155.1 87.2,155.5 90.0,155.9 92.8,156.2 95.6,156.6 98.5,156.9 101.5,157.2 104.4,157.6 107.4,157.9 110.3,158.2 113.2,158.5 116.0,158.8 118.8,159.0 121.4,159.3 124.0,159.6 126.4,159.9 128.8,160.1 131.1,160.4 133.3,160.7 135.5,160.9 137.6,161.1 139.6,161.4 141.7,161.6 143.8,161.8 145.8,162.0 147.9,162.2 150.0,162.4 152.1,162.6 154.2,162.7 156.3,162.8 158.4,163.0 160.5,163.1 162.6,163.2 164.6,163.3 166.7,163.4 168.8,163.5 170.8,163.6 172.9,163.7 175.0,163.8 177.1,163.9 179.2,164.0 181.2,164.2 183.3,164.3 185.4,164.4 187.5,164.5 189.6,164.6 191.7,164.8 193.8,164.9 195.8,165.0 197.9,165.2 200.0,165.3 202.1,165.4 204.2,165.6 206.4,165.7 208.5,165.9 210.6,166.1 212.8,166.2 214.9,166.4 217.0,166.5 219.1,166.7 221.1,166.8 223.1,167.0 225.0,167.1 226.9,167.2 228.9,167.4 230.9,167.5 232.9,167.6 234.9,167.7 236.8,167.9 238.6,168.0 240.4,168.1 241.9,168.2 243.3,168.3 244.5,168.3 245.5,168.4" fill="none" stroke="#ff0000" stroke-width="3.7" stroke-linejoin="round" stroke-linecap="round"/><circle cx="58.2" cy="151.3" r="2.4"/><circle cx="60.8" cy="151.7" r="2.4"/><circle cx="63.3" cy="152.1" r="2.4"/><circle cx="65.9" cy="152.5" r="2.4"/><circle cx="68.5" cy="152.8" r="2.4"/><circle cx="71.1" cy="153.2" r="2.4"/><circle cx="73.6" cy="153.6" r="2.4"/><circle cx="76.2" cy="154.0" r="2.4"/><circle cx="78.8" cy="154.4" r="2.4"/><circle cx="81.3" cy="154.7" r="2.4"/><circle cx="83.9" cy="155.1" r="2.4"/><circle cx="86.5" cy="155.4" r="2.4"/><circle cx="89.1" cy="155.8" r="2.4"/><circle cx="91.7" cy="156.1" r="2.4"/><circle cx="94.2" cy="156.4" r="2.4"/><circle cx="96.8" cy="156.7" r="2.4"/><circle cx="99.4" cy="157.0" r="2.4"/><circle cx="102.0" cy="157.3" r="2.4"/><circle cx="104.6" cy="157.6" r="2.4"/><circle cx="107.2" cy="157.8" r="2.4"/><circle cx="109.7" cy="158.1" r="2.4"/><circle cx="112.3" cy="158.4" r="2.4"/><circle cx="114.9" cy="158.6" r="2.4"/><circle cx="117.5" cy="158.9" r="2.4"/><circle cx="120.1" cy="159.2" r="2.4"/><circle cx="122.7" cy="159.5" r="2.4"/><circle cx="125.3" cy="159.7" r="2.4"/><circle cx="127.8" cy="160.0" r="2.4"/><circle cx="130.4" cy="160.3" r="2.4"/><circle cx="133.0" cy="160.6" r="2.4"/><circle cx="135.6" cy="160.9" r="2.4"/><circle cx="138.2" cy="161.2" r="2.4"/><circle cx="140.8" cy="161.5" r="2.4"/><circle cx="143.3" cy="161.8" r="2.4"/><circle cx="145.9" cy="162.0" r="2.4"/><circle cx="148.5" cy="162.3" r="2.4"/><circle cx="151.1" cy="162.5" r="2.4"/><circle cx="153.7" cy="162.7" r="2.4"/><circle cx="156.3" cy="162.8" r="2.4"/><circle cx="158.9" cy="163.0" r="2.4"/><circle cx="161.5" cy="163.1" r="2.4"/><circle cx="164.1" cy="163.3" r="2.4"/><circle cx="166.7" cy="163.4" r="2.4"/><circle cx="169.3" cy="163.5" r="2.4"/><circle cx="171.9" cy="163.6" r="2.4"/><circle cx="174.5" cy="163.8" r="2.4"/><circle cx="177.1" cy="163.9" r="2.4"/><circle cx="179.7" cy="164.1" r="2.4"/><circle cx="182.3" cy="164.2" r="2.4"/><circle cx="184.9" cy="164.4" r="2.4"/><circle cx="187.5" cy="164.5" r="2.4"/><circle cx="190.0" cy="164.7" r="2.4"/><circle cx="192.6" cy="164.8" r="2.4"/><circle cx="195.2" cy="165.0" r="2.4"/><circle cx="197.8" cy="165.2" r="2.4"/><circle cx="200.4" cy="165.3" r="2.4"/><circle cx="203.0" cy="165.5" r="2.4"/><circle cx="205.6" cy="165.7" r="2.4"/><circle cx="208.2" cy="165.9" r="2.4"/><circle cx="210.8" cy="166.1" r="2.4"/><circle cx="213.4" cy="166.3" r="2.4"/><circle cx="216.0" cy="166.5" r="2.4"/><circle cx="218.6" cy="166.6" r="2.4"/><circle cx="221.2" cy="166.8" r="2.4"/><circle cx="223.8" cy="167.0" r="2.4"/><circle cx="226.4" cy="167.2" r="2.4"/><circle cx="229.0" cy="167.4" r="2.4"/><circle cx="231.6" cy="167.5" r="2.4"/><circle cx="234.1" cy="167.7" r="2.4"/><circle cx="236.7" cy="167.9" r="2.4"/><circle cx="239.3" cy="168.0" r="2.4"/><circle cx="241.9" cy="168.2" r="2.4"/><circle cx="244.5" cy="168.3" r="2.4"/></g><rect x="201.0" y="10.3" width="93.5" height="34.3" fill="#fff" stroke="#999" stroke-width="1"/><line x1="202.5" y1="19.1" x2="233.0" y2="19.1" stroke="#0000ff" stroke-width="1.6"/><path d="M217.8 16.1L219.9 20.3L215.6 20.3Z" fill="#0000ff"/><line x1="202.5" y1="35.6" x2="233.0" y2="35.6" stroke="#ff0000" stroke-width="1.6"/><circle cx="217.8" cy="35.6" r="1.9" fill="#ff0000"/><text transform="translate(236.20,24.00) scale(1,1.070)" font-size="13.6" text-anchor="start" fill="#1a1a1a" >PSF - 1.7</text><text transform="translate(236.20,40.50) scale(1,1.070)" font-size="13.6" text-anchor="start" fill="#1a1a1a" >PSF - 1.5</text><line x1="93.0" y1="79.6" x2="58.9" y2="79.6" stroke="#000" stroke-width="2.6"/><path d="M50.9 79.6L60.9 75.3L59.4 79.6L60.9 83.9Z" fill="#000"/><line x1="258.0" y1="194.7" x2="284.1" y2="194.7" stroke="#000" stroke-width="2.6"/><path d="M292.1 194.7L282.1 190.4L283.6 194.7L282.1 199.0Z" fill="#000"/><text transform="translate(12.8,134) rotate(-90) scale(1,1.04)" font-size="15" font-weight="bold" fill="#1a1a1a">E<tspan font-size="10.2" dy="4.6">cell</tspan><tspan dy="-4.6"> (V)</tspan></text><text transform="translate(345.1,157.7) rotate(-90) scale(1,1.03)" font-size="15" font-weight="bold" fill="#1a1a1a">HFR (<tspan font-weight="normal">&#937;</tspan>-cm<tspan font-size="10" dy="-6">2</tspan><tspan dy="6">)</tspan></text><text transform="translate(140,247.9) scale(1,1.05)" font-size="15" font-weight="bold" fill="#1a1a1a"><tspan font-style="italic">i</tspan> (A cm<tspan font-size="10" dy="-6">-2</tspan><tspan dy="6">)</tspan></text><path d="M48.5 257.4V462.5" stroke="#4c4c4c" stroke-width="1.6"/><path d="M301.4 257.4V462.5" stroke="#444" stroke-width="1.6"/><path d="M48.5 258.2H301.4" stroke="#555" stroke-width="1.6"/><path d="M48.5 461.7H301.4" stroke="#777" stroke-width="1.6"/><path d="M48.5 461.7V465.7M66.6 461.7V463.7M84.6 461.7V465.7M102.7 461.7V463.7M120.8 461.7V465.7M138.8 461.7V463.7M156.9 461.7V465.7M174.9 461.7V463.7M193.0 461.7V465.7M211.1 461.7V463.7M229.1 461.7V465.7M247.2 461.7V463.7M265.3 461.7V465.7M283.3 461.7V463.7M301.4 461.7V465.7M48.5 461.7H44.5M48.5 449.0H46.5M48.5 436.3H44.5M48.5 423.5H46.5M48.5 410.8H44.5M48.5 398.1H46.5M48.5 385.4H44.5M48.5 372.7H46.5M48.5 359.9H44.5M48.5 347.2H46.5M48.5 334.5H44.5M48.5 321.8H46.5M48.5 309.1H44.5M48.5 296.4H46.5M48.5 283.6H44.5M48.5 270.9H46.5M48.5 258.2H44.5" stroke="#3a3a3a" stroke-width="1.1" fill="none"/><text transform="translate(48.50,479.00) scale(1,1.070)" font-size="13.0" text-anchor="middle" fill="#1a1a1a" >0.0</text><text transform="translate(84.63,479.00) scale(1,1.070)" font-size="13.0" text-anchor="middle" fill="#1a1a1a" >0.5</text><text transform="translate(120.76,479.00) scale(1,1.070)" font-size="13.0" text-anchor="middle" fill="#1a1a1a" >1.0</text><text transform="translate(156.89,479.00) scale(1,1.070)" font-size="13.0" text-anchor="middle" fill="#1a1a1a" >1.5</text><text transform="translate(193.01,479.00) scale(1,1.070)" font-size="13.0" text-anchor="middle" fill="#1a1a1a" >2.0</text><text transform="translate(229.14,479.00) scale(1,1.070)" font-size="13.0" text-anchor="middle" fill="#1a1a1a" >2.5</text><text transform="translate(265.27,479.00) scale(1,1.070)" font-size="13.0" text-anchor="middle" fill="#1a1a1a" >3.0</text><text transform="translate(301.40,479.00) scale(1,1.070)" font-size="13.0" text-anchor="middle" fill="#1a1a1a" >3.5</text><text transform="translate(40.90,466.60) scale(1,1.070)" font-size="13.0" text-anchor="end" fill="#1a1a1a" >0.0</text><text transform="translate(40.90,441.16) scale(1,1.070)" font-size="13.0" text-anchor="end" fill="#1a1a1a" >0.2</text><text transform="translate(40.90,415.72) scale(1,1.070)" font-size="13.0" text-anchor="end" fill="#1a1a1a" >0.4</text><text transform="translate(40.90,390.29) scale(1,1.070)" font-size="13.0" text-anchor="end" fill="#1a1a1a" >0.6</text><text transform="translate(40.90,364.85) scale(1,1.070)" font-size="13.0" text-anchor="end" fill="#1a1a1a" >0.8</text><text transform="translate(40.90,339.41) scale(1,1.070)" font-size="13.0" text-anchor="end" fill="#1a1a1a" >1.0</text><text transform="translate(40.90,313.97) scale(1,1.070)" font-size="13.0" text-anchor="end" fill="#1a1a1a" >1.2</text><text transform="translate(40.90,288.54) scale(1,1.070)" font-size="13.0" text-anchor="end" fill="#1a1a1a" >1.4</text><text transform="translate(40.90,263.10) scale(1,1.070)" font-size="13.0" text-anchor="end" fill="#1a1a1a" >1.6</text><text transform="translate(0.80,261.20) scale(1,1.050)" font-size="14.5" text-anchor="start" fill="#1a1a1a" >(b)</text><path d="M50.3 450.3L52.8 454.8L47.8 454.8Z" fill="#0000ff"/><g fill="#0000ff"><polyline points="49.5,461.0 49.7,460.8 49.8,460.7 50.0,460.5 50.3,460.2 50.5,460.0 50.8,459.7 51.1,459.4 51.4,459.1 51.8,458.7 52.1,458.4 52.6,457.9 53.0,457.5 53.5,457.0 54.0,456.5 54.6,456.0 55.2,455.4 55.8,454.8 56.5,454.2 57.2,453.5 57.9,452.8 58.5,452.1 59.2,451.4 59.9,450.7 60.5,450.0 61.1,449.3 61.8,448.5 62.4,447.7 63.0,446.9 63.6,446.0 64.2,445.2 64.9,444.3 65.5,443.4 66.1,442.6 66.8,441.7 67.4,440.8 68.0,440.0 68.6,439.2 69.2,438.3 69.9,437.5 70.5,436.7 71.1,435.8 71.7,435.0 72.4,434.2 73.0,433.3 73.6,432.5 74.2,431.7 74.9,430.8 75.5,430.0 76.1,429.2 76.8,428.3 77.4,427.5 78.1,426.7 78.7,425.8 79.4,425.0 80.0,424.2 80.7,423.3 81.3,422.5 82.0,421.7 82.7,420.8 83.3,420.0 83.9,419.2 84.6,418.3 85.2,417.5 85.9,416.7 86.5,415.8 87.1,415.0 87.8,414.2 88.4,413.3 89.1,412.5 89.7,411.7 90.3,410.8 91.0,410.0 91.7,409.2 92.3,408.3 93.0,407.5 93.6,406.7 94.3,405.8 95.0,405.0 95.6,404.2 96.3,403.3 97.0,402.5 97.7,401.7 98.3,400.8 99.0,400.0 99.7,399.2 100.3,398.4 101.0,397.5 101.7,396.7 102.3,395.9 103.0,395.1 103.7,394.3 104.4,393.4 105.1,392.6 105.8,391.8 106.5,390.9 107.2,390.0 107.9,389.1 108.7,388.1 109.5,387.1 110.3,386.1 111.1,385.1 112.0,384.1 112.8,383.1 113.6,382.1 114.3,381.2 115.1,380.2 115.8,379.3 116.5,378.5 117.1,377.7 117.7,377.0 118.3,376.2 118.9,375.6 119.4,374.9 119.9,374.2 120.4,373.6 120.9,373.0 121.4,372.4 121.9,371.8 122.4,371.1 123.0,370.5 123.6,369.9 124.1,369.2 124.7,368.6 125.3,368.0 125.9,367.4 126.5,366.8 127.1,366.2 127.7,365.6 128.3,365.0 128.9,364.4 129.4,363.7 130.0,363.0 130.5,362.3 131.1,361.5 131.6,360.7 132.1,359.9 132.6,359.1 133.1,358.3 133.6,357.5 134.1,356.6 134.6,355.8 135.2,355.0 135.7,354.2 136.3,353.5 136.9,352.8 137.5,352.1 138.1,351.4 138.8,350.8 139.4,350.2 140.1,349.5 140.7,348.9 141.4,348.3 142.1,347.6 142.8,346.9 143.6,346.2 144.3,345.5 145.1,344.7 145.8,343.9 146.6,343.1 147.5,342.3 148.3,341.4 149.1,340.6 150.0,339.7 150.8,338.8 151.7,338.0 152.6,337.1 153.4,336.3 154.3,335.5 155.2,334.7 156.1,333.9 157.0,333.1 157.9,332.4 158.8,331.6 159.7,330.9 160.7,330.1 161.6,329.3 162.5,328.6 163.3,327.9 164.2,327.1 165.0,326.4 165.8,325.7 166.5,324.9 167.3,324.2 168.0,323.5 168.7,322.8 169.4,322.1 170.1,321.4 170.8,320.7 171.4,320.0 172.2,319.3 172.9,318.7 173.6,318.0 174.4,317.3 175.1,316.7 175.9,316.0 176.7,315.4 177.5,314.8 178.3,314.1 179.1,313.5 179.9,312.9 180.7,312.3 181.5,311.7 182.2,311.1 182.9,310.5 183.6,309.9 184.2,309.4 184.8,308.8 185.3,308.3 185.9,307.7 186.4,307.2 186.9,306.7 187.5,306.2 188.1,305.6 188.7,305.1 189.3,304.6 190.0,304.0 190.7,303.4 191.5,302.9 192.3,302.3 193.1,301.7 194.0,301.1 194.8,300.5 195.7,299.9 196.6,299.4 197.4,298.8 198.3,298.2 199.2,297.6 200.0,297.0 200.8,296.4 201.7,295.8 202.5,295.2 203.3,294.6 204.2,294.0 205.0,293.4 205.8,292.8 206.7,292.2 207.5,291.6 208.3,291.0 209.2,290.5 210.0,289.9 210.8,289.4 211.7,288.8 212.5,288.3 213.3,287.8 214.2,287.3 215.0,286.8 215.8,286.3 216.7,285.8 217.5,285.3 218.3,284.8 219.2,284.4 220.0,283.9 220.8,283.4 221.7,283.0 222.5,282.5 223.3,282.1 224.2,281.6 225.0,281.2 225.8,280.7 226.7,280.3 227.5,279.9 228.3,279.5 229.2,279.1 230.0,278.7 230.8,278.3 231.7,278.0 232.5,277.6 233.4,277.3 234.3,276.9 235.1,276.6 236.0,276.3 236.8,276.0 237.6,275.7 238.4,275.5 239.2,275.2 240.0,275.0 240.7,274.8 241.5,274.6 242.2,274.5 242.9,274.3 243.5,274.2 244.2,274.1 244.8,274.0 245.5,273.9 246.1,273.8 246.7,273.8 247.4,273.8 248.0,273.8 248.6,273.8 249.2,273.9 249.9,274.0 250.5,274.1 251.1,274.3 251.7,274.4 252.3,274.6 252.9,274.8 253.4,275.0 254.0,275.2 254.5,275.4 255.0,275.6 255.5,275.8 256.0,276.0 256.4,276.3 256.9,276.5 257.3,276.8 257.7,277.0 258.1,277.3 258.5,277.6 258.9,277.9 259.2,278.3 259.6,278.6 260.0,279.0 260.4,279.4 260.7,279.9 261.1,280.3 261.5,280.8 261.8,281.4 262.2,281.9 262.5,282.4 262.8,283.0 263.1,283.5 263.4,284.0 263.7,284.5 264.0,285.0 264.3,285.4 264.5,285.9 264.7,286.3 265.0,286.7 265.2,287.1 265.4,287.4 265.6,287.8 265.7,288.2 265.9,288.6 266.1,289.1 266.3,289.5 266.5,290.0 266.7,290.5 266.9,291.0 267.1,291.6 267.3,292.1 267.5,292.7 267.7,293.3 267.9,293.9 268.1,294.5 268.2,295.1 268.4,295.8 268.6,296.4 268.7,297.0 268.8,297.6 269.0,298.3 269.1,299.0 269.2,299.6 269.3,300.3 269.4,301.0 269.4,301.7 269.5,302.4 269.6,303.0 269.6,303.7 269.7,304.4 269.7,305.0 269.7,305.6 269.7,306.2 269.7,306.8 269.7,307.4 269.7,307.9 269.7,308.5 269.6,309.1 269.6,309.6 269.5,310.2 269.5,310.8 269.4,311.4 269.4,312.0 269.4,312.6 269.3,313.3 269.3,313.9 269.2,314.5 269.1,315.2 269.1,315.8 269.0,316.5 269.0,317.1 268.9,317.8 268.8,318.5 268.7,319.3 268.6,320.0 268.5,320.8 268.4,321.6 268.3,322.4 268.1,323.2 268.0,324.0 267.9,324.9 267.7,325.7 267.6,326.6 267.4,327.5 267.2,328.3 267.1,329.2 266.9,330.0 266.7,330.8 266.5,331.7 266.3,332.5 266.1,333.3 265.9,334.2 265.7,335.0 265.5,335.8 265.3,336.7 265.0,337.5 264.8,338.3 264.5,339.2 264.3,340.0 264.0,340.8 263.8,341.7 263.5,342.5 263.2,343.3 263.0,344.2 262.7,345.0 262.4,345.8 262.1,346.7 261.8,347.5 261.5,348.3 261.3,349.2 261.0,350.0 260.7,350.8 260.5,351.7 260.2,352.5 260.0,353.3 259.7,354.2 259.5,355.0 259.2,355.8 259.0,356.7 258.7,357.5 258.4,358.3 258.2,359.2 257.9,360.0 257.6,360.8 257.3,361.7 257.1,362.5 256.8,363.3 256.5,364.2 256.2,365.0 255.9,365.8 255.6,366.7 255.3,367.5 255.0,368.3 254.7,369.2 254.4,370.0 254.1,370.8 253.8,371.7 253.5,372.5 253.2,373.3 252.9,374.2 252.6,375.0 252.4,375.8 252.1,376.7 251.8,377.5 251.5,378.3 251.3,379.2 251.0,380.0 250.8,380.8 250.5,381.7 250.3,382.5 250.1,383.3 249.9,384.2 249.6,385.0 249.4,385.8 249.2,386.7 249.0,387.5 248.8,388.3 248.6,389.2 248.4,390.0 248.2,390.8 248.0,391.7 247.8,392.5 247.5,393.3 247.3,394.2 247.1,395.0 246.9,395.8 246.7,396.7 246.5,397.5 246.3,398.3 246.1,399.2 245.9,400.0 245.7,400.8 245.6,401.7 245.4,402.5 245.2,403.3 245.1,404.2 244.9,405.0 244.8,405.8 244.7,406.7 244.5,407.5 244.4,408.3 244.2,409.2 244.1,410.0 244.0,410.8 243.8,411.7 243.6,412.6 243.5,413.4 243.3,414.3 243.2,415.2 243.0,416.0 242.9,416.9 242.8,417.7 242.6,418.5 242.5,419.3 242.4,420.0 242.3,420.7 242.2,421.5 242.1,422.2 242.0,422.9 242.0,423.6 241.9,424.3 241.8,425.0 241.8,425.6 241.7,426.1 241.7,426.6 241.6,427.1 241.6,427.4" fill="none" stroke="#0000ff" stroke-width="1.3" stroke-linejoin="round"/><path d="M49.5 458.0L52.3 463.0L46.7 463.0ZM52.8 454.7L55.6 459.7L50.0 459.7ZM56.1 451.6L58.9 456.6L53.3 456.6ZM59.2 448.4L62.0 453.4L56.4 453.4ZM62.1 445.1L64.9 450.1L59.3 450.1ZM64.7 441.5L67.5 446.5L61.9 446.5ZM67.4 437.8L70.2 442.8L64.6 442.8ZM70.0 434.3L72.8 439.3L67.2 439.3ZM72.7 430.8L75.5 435.8L69.9 435.8ZM75.3 427.2L78.1 432.2L72.5 432.2ZM78.1 423.7L80.9 428.7L75.3 428.7ZM80.9 420.1L83.7 425.1L78.1 425.1ZM83.6 416.6L86.4 421.6L80.8 421.6ZM86.3 413.0L89.1 418.0L83.5 418.0ZM89.1 409.5L91.9 414.5L86.3 414.5ZM91.8 406.0L94.6 411.0L89.0 411.0ZM94.6 402.4L97.4 407.4L91.8 407.4ZM97.5 398.9L100.3 403.9L94.7 403.9ZM100.3 395.4L103.1 400.4L97.5 400.4ZM103.2 391.9L106.0 396.9L100.4 396.9ZM106.1 388.3L108.9 393.3L103.3 393.3ZM109.0 384.7L111.8 389.7L106.2 389.7ZM112.0 381.1L114.8 386.1L109.2 386.1ZM114.7 377.7L117.5 382.7L111.9 382.7ZM117.5 374.2L120.3 379.2L114.7 379.2ZM120.4 370.6L123.2 375.6L117.6 375.6ZM123.4 367.1L126.2 372.1L120.6 372.1ZM126.5 363.8L129.3 368.8L123.7 368.8ZM129.6 360.5L132.4 365.5L126.8 365.5ZM132.3 356.7L135.1 361.7L129.5 361.7ZM134.6 352.8L137.4 357.8L131.8 357.8ZM137.3 349.3L140.1 354.3L134.5 354.3ZM140.5 346.1L143.3 351.1L137.7 351.1ZM143.7 343.0L146.5 348.0L140.9 348.0ZM146.8 339.9L149.6 344.9L144.0 344.9ZM150.0 336.7L152.8 341.7L147.2 341.7ZM153.2 333.5L156.0 338.5L150.4 338.5ZM156.5 330.5L159.3 335.5L153.7 335.5ZM160.0 327.7L162.8 332.7L157.2 332.7ZM163.5 324.7L166.3 329.7L160.7 329.7ZM166.9 321.6L169.7 326.6L164.1 326.6ZM170.1 318.4L172.9 323.4L167.3 323.4ZM173.4 315.2L176.2 320.2L170.6 320.2ZM176.7 312.4L179.5 317.4L173.9 317.4ZM180.5 309.5L183.3 314.5L177.7 314.5ZM184.0 306.6L186.8 311.6L181.2 311.6ZM187.3 303.3L190.1 308.3L184.5 308.3ZM190.7 300.4L193.5 305.4L187.9 305.4ZM194.4 297.8L197.2 302.8L191.6 302.8ZM198.1 295.3L200.9 300.3L195.3 300.3ZM201.9 292.7L204.7 297.7L199.1 297.7ZM205.6 289.9L208.4 294.9L202.8 294.9ZM209.4 287.3L212.2 292.3L206.6 292.3ZM213.3 284.8L216.1 289.8L210.5 289.8ZM217.2 282.5L220.0 287.5L214.4 287.5ZM221.1 280.3L223.9 285.3L218.3 285.3ZM225.0 278.2L227.8 283.2L222.2 283.2ZM229.2 276.1L232.0 281.1L226.4 281.1ZM232.3 274.7L235.1 279.7L229.5 279.7ZM234.0 274.0L236.8 279.0L231.2 279.0ZM235.7 273.4L238.5 278.4L232.9 278.4ZM237.4 272.8L240.2 277.8L234.6 277.8ZM239.0 272.3L241.8 277.3L236.2 277.3ZM240.7 271.8L243.5 276.8L237.9 276.8ZM242.5 271.4L245.3 276.4L239.7 276.4ZM244.2 271.1L247.0 276.1L241.4 276.1ZM245.8 270.9L248.6 275.9L243.0 275.9ZM247.7 270.8L250.5 275.8L244.9 275.8ZM249.6 271.0L252.4 276.0L246.8 276.0ZM251.4 271.3L254.2 276.3L248.6 276.3ZM253.1 271.9L255.9 276.9L250.3 276.9ZM254.7 272.5L257.5 277.5L251.9 277.5ZM256.4 273.3L259.2 278.3L253.6 278.3ZM258.1 274.3L260.9 279.3L255.3 279.3ZM259.4 275.4L262.2 280.4L256.6 280.4ZM260.6 276.6L263.4 281.6L257.8 281.6ZM261.6 278.1L264.4 283.1L258.8 283.1ZM262.7 279.7L265.5 284.7L259.9 284.7ZM263.6 281.3L266.4 286.3L260.8 286.3ZM264.5 282.9L267.3 287.9L261.7 287.9ZM265.4 284.4L268.2 289.4L262.6 289.4ZM266.1 286.1L268.9 291.1L263.3 291.1ZM266.8 287.8L269.6 292.8L264.0 292.8ZM267.4 289.4L270.2 294.4L264.6 294.4ZM268.0 291.2L270.8 296.2L265.2 296.2ZM268.5 293.1L271.3 298.1L265.7 298.1ZM268.8 294.6L271.6 299.6L266.0 299.6ZM269.1 296.3L271.9 301.3L266.3 301.3ZM269.4 298.0L272.2 303.0L266.6 303.0ZM269.5 299.7L272.3 304.7L266.7 304.7ZM269.7 301.4L272.5 306.4L266.9 306.4ZM269.7 303.2L272.5 308.2L266.9 308.2ZM269.7 304.9L272.5 309.9L266.9 309.9ZM269.6 306.6L272.4 311.6L266.8 311.6ZM269.4 308.4L272.2 313.4L266.6 313.4ZM269.3 310.3L272.1 315.3L266.5 315.3ZM269.1 312.2L271.9 317.2L266.3 317.2ZM269.0 313.8L271.8 318.8L266.2 318.8ZM268.8 315.5L271.6 320.5L266.0 320.5ZM268.6 317.3L271.4 322.3L265.8 322.3ZM268.3 319.1L271.1 324.1L265.5 324.1ZM268.0 320.7L270.8 325.7L265.2 325.7ZM267.8 322.4L270.6 327.4L265.0 327.4ZM267.5 324.2L270.3 329.2L264.7 329.2ZM267.1 325.9L269.9 330.9L264.3 330.9ZM266.8 327.6L269.6 332.6L264.0 332.6ZM266.4 329.2L269.2 334.2L263.6 334.2ZM266.0 330.9L268.8 335.9L263.2 335.9ZM265.4 333.1L268.2 338.1L262.6 338.1ZM264.8 335.3L267.6 340.3L262.0 340.3ZM264.1 337.6L266.9 342.6L261.3 342.6ZM263.4 339.8L266.2 344.8L260.6 344.8ZM262.7 342.0L265.5 347.0L259.9 347.0ZM261.9 344.2L264.7 349.2L259.1 349.2ZM261.2 346.4L264.0 351.4L258.4 351.4ZM260.5 348.7L263.3 353.7L257.7 353.7ZM259.8 350.9L262.6 355.9L257.0 355.9ZM259.1 353.1L261.9 358.1L256.3 358.1ZM258.4 355.3L261.2 360.3L255.6 360.3ZM257.7 357.6L260.5 362.6L254.9 362.6ZM257.0 359.8L259.8 364.8L254.2 364.8ZM256.2 362.0L259.0 367.0L253.4 367.0ZM255.4 364.2L258.2 369.2L252.6 369.2ZM254.6 366.4L257.4 371.4L251.8 371.4ZM253.8 368.7L256.6 373.7L251.0 373.7ZM253.0 370.9L255.8 375.9L250.2 375.9ZM252.3 373.1L255.1 378.1L249.5 378.1ZM251.5 375.3L254.3 380.3L248.7 380.3ZM250.8 377.6L253.6 382.6L248.0 382.6ZM250.2 379.8L253.0 384.8L247.4 384.8ZM249.6 382.0L252.4 387.0L246.8 387.0ZM249.1 384.2L251.9 389.2L246.3 389.2ZM248.5 386.4L251.3 391.4L245.7 391.4ZM248.0 388.7L250.8 393.7L245.2 393.7ZM247.4 390.9L250.2 395.9L244.6 395.9ZM246.8 393.1L249.6 398.1L244.0 398.1ZM246.3 395.3L249.1 400.3L243.5 400.3ZM245.8 397.6L248.6 402.6L243.0 402.6ZM245.3 399.8L248.1 404.8L242.5 404.8ZM244.9 402.0L247.8 407.0L242.1 407.0ZM244.6 404.2L247.4 409.2L241.8 409.2ZM244.2 406.4L247.0 411.4L241.4 411.4ZM243.8 408.7L246.6 413.7L241.0 413.7ZM243.4 411.0L246.2 416.0L240.6 416.0ZM243.0 413.3L245.8 418.3L240.2 418.3ZM242.6 415.5L245.4 420.5L239.8 420.5ZM242.3 417.7L245.1 422.7L239.5 422.7ZM242.0 419.9L244.8 424.9L239.2 424.9ZM241.8 422.3L244.6 427.3L239.0 427.3Z"/></g><g fill="#ff0000"><polyline points="49.0,461.0 49.0,461.0 49.0,461.0 49.0,461.0 49.0,461.1 49.0,461.1 49.1,461.1 49.1,461.1 49.2,461.0 49.3,460.9 49.5,460.7 49.7,460.4 50.0,460.0 50.4,459.5 50.8,458.9 51.3,458.1 51.8,457.3 52.4,456.5 53.1,455.6 53.7,454.6 54.3,453.7 55.0,452.7 55.7,451.8 56.3,450.9 56.9,450.0 57.5,449.2 58.1,448.3 58.7,447.5 59.3,446.7 59.9,445.8 60.6,445.0 61.2,444.2 61.8,443.3 62.4,442.5 63.1,441.7 63.7,440.8 64.3,440.0 64.9,439.2 65.5,438.3 66.1,437.5 66.8,436.7 67.4,435.8 68.0,435.0 68.6,434.2 69.2,433.3 69.8,432.5 70.5,431.7 71.1,430.8 71.7,430.0 72.3,429.2 72.9,428.3 73.5,427.5 74.1,426.7 74.8,425.8 75.4,425.0 76.0,424.2 76.6,423.3 77.2,422.5 77.8,421.7 78.5,420.8 79.1,420.0 79.7,419.2 80.4,418.3 81.0,417.5 81.7,416.7 82.3,415.8 83.0,415.0 83.7,414.2 84.3,413.3 85.0,412.5 85.7,411.7 86.3,410.8 87.0,410.0 87.7,409.2 88.3,408.3 89.0,407.5 89.7,406.7 90.4,405.9 91.1,405.1 91.8,404.2 92.5,403.4 93.2,402.6 93.9,401.7 94.6,400.9 95.3,400.0 96.0,399.1 96.8,398.2 97.5,397.3 98.3,396.4 99.1,395.5 99.8,394.6 100.6,393.7 101.4,392.7 102.2,391.8 102.9,390.9 103.7,389.9 104.5,389.0 105.3,388.0 106.1,387.1 106.9,386.1 107.7,385.1 108.5,384.1 109.4,383.0 110.2,382.0 111.0,381.1 111.8,380.1 112.5,379.2 113.3,378.3 114.0,377.5 114.7,376.7 115.4,376.0 116.0,375.3 116.7,374.6 117.3,374.0 117.9,373.3 118.5,372.7 119.1,372.1 119.7,371.5 120.2,371.0 120.8,370.4 121.4,369.8 122.0,369.2 122.5,368.7 123.1,368.1 123.6,367.6 124.1,367.1 124.6,366.6 125.2,366.1 125.7,365.6 126.2,365.1 126.8,364.6 127.4,364.1 128.0,363.5 128.6,362.9 129.3,362.4 129.9,361.8 130.6,361.2 131.3,360.6 132.0,360.0 132.7,359.4 133.4,358.8 134.1,358.2 134.8,357.6 135.6,356.9 136.3,356.3 137.1,355.6 137.9,355.0 138.7,354.3 139.5,353.6 140.3,352.8 141.2,352.1 142.0,351.4 142.8,350.7 143.6,350.0 144.4,349.3 145.2,348.6 146.0,348.0 146.7,347.4 147.4,346.8 148.1,346.2 148.8,345.7 149.4,345.1 150.1,344.6 150.7,344.0 151.4,343.5 152.1,342.9 152.8,342.4 153.5,341.8 154.3,341.2 155.1,340.6 155.9,340.0 156.8,339.3 157.7,338.7 158.6,338.1 159.5,337.4 160.4,336.8 161.3,336.1 162.3,335.5 163.2,334.9 164.1,334.2 165.0,333.6 165.9,333.0 166.8,332.4 167.7,331.7 168.6,331.1 169.5,330.5 170.4,329.9 171.3,329.3 172.2,328.7 173.1,328.1 174.0,327.5 174.8,326.9 175.7,326.3 176.6,325.7 177.5,325.1 178.4,324.4 179.3,323.8 180.2,323.2 181.1,322.5 182.0,321.9 182.8,321.3 183.6,320.8 184.4,320.2 185.1,319.7 185.7,319.3 186.2,318.9 186.7,318.6 187.0,318.3 187.3,318.1 187.6,317.9 187.8,317.8 188.1,317.6 188.4,317.4 188.7,317.2 189.0,317.0 189.5,316.7 190.0,316.4 190.6,316.0 191.3,315.6 192.1,315.2 192.9,314.8 193.8,314.3 194.6,313.8 195.5,313.3 196.5,312.8 197.4,312.3 198.3,311.9 199.1,311.4 200.0,311.0 200.8,310.6 201.7,310.2 202.5,309.8 203.3,309.4 204.2,309.0 205.0,308.6 205.8,308.2 206.7,307.8 207.5,307.5 208.3,307.1 209.2,306.8 210.0,306.5 210.8,306.2 211.7,305.9 212.5,305.6 213.3,305.3 214.2,305.1 215.0,304.8 215.8,304.6 216.7,304.3 217.5,304.1 218.3,303.9 219.2,303.8 220.0,303.6 220.8,303.5 221.7,303.3 222.5,303.2 223.4,303.1 224.3,303.0 225.1,303.0 226.0,302.9 226.8,302.9 227.6,302.9 228.4,302.9 229.2,302.9 230.0,303.0 230.7,303.1 231.5,303.2 232.2,303.4 232.9,303.5 233.6,303.7 234.3,304.0 235.0,304.2 235.6,304.4 236.3,304.7 236.9,305.0 237.4,305.2 238.0,305.5 238.5,305.8 239.0,306.1 239.5,306.4 240.0,306.7 240.4,307.0 240.8,307.3 241.2,307.7 241.6,308.0 242.0,308.4 242.3,308.7 242.7,309.1 243.0,309.5 243.3,309.9 243.6,310.3 243.9,310.7 244.2,311.2 244.5,311.6 244.7,312.1 245.0,312.5 245.2,313.0 245.4,313.5 245.6,314.0 245.8,314.5 246.0,315.0 246.2,315.5 246.3,316.1 246.5,316.6 246.6,317.2 246.7,317.8 246.8,318.3 246.9,318.9 247.0,319.5 247.0,320.1 247.1,320.8 247.1,321.4 247.2,322.0 247.2,322.6 247.3,323.3 247.3,323.9 247.3,324.5 247.3,325.2 247.3,325.8 247.3,326.5 247.3,327.1 247.3,327.8 247.2,328.5 247.2,329.3 247.2,330.0 247.2,330.8 247.2,331.6 247.1,332.4 247.1,333.2 247.1,334.0 247.0,334.9 247.0,335.7 246.9,336.6 246.9,337.5 246.8,338.3 246.8,339.2 246.7,340.0 246.6,340.8 246.6,341.7 246.5,342.5 246.4,343.3 246.3,344.2 246.2,345.0 246.1,345.8 246.0,346.7 245.9,347.5 245.8,348.3 245.6,349.2 245.5,350.0 245.4,350.8 245.2,351.7 245.0,352.5 244.9,353.3 244.7,354.2 244.5,355.0 244.4,355.8 244.2,356.7 244.0,357.5 243.7,358.3 243.5,359.2 243.3,360.0 243.1,360.8 242.8,361.7 242.5,362.5 242.3,363.3 242.0,364.2 241.7,365.0 241.4,365.8 241.1,366.7 240.8,367.5 240.5,368.3 240.2,369.2 239.9,370.0 239.6,370.8 239.3,371.7 239.0,372.5 238.7,373.3 238.4,374.2 238.2,375.0 237.9,375.8 237.6,376.7 237.3,377.5 237.0,378.3 236.7,379.2 236.4,380.0 236.1,380.8 235.8,381.7 235.5,382.5 235.3,383.3 235.0,384.2 234.7,385.0 234.4,385.8 234.1,386.7 233.8,387.5 233.6,388.3 233.3,389.2 233.0,390.0 232.7,390.8 232.4,391.7 232.2,392.5 231.9,393.3 231.6,394.2 231.3,395.0 231.0,395.8 230.7,396.7 230.5,397.5 230.2,398.3 229.9,399.2 229.6,400.0 229.3,400.8 229.0,401.7 228.7,402.5 228.4,403.3 228.1,404.2 227.8,405.0 227.5,405.8 227.2,406.7 226.9,407.5 226.7,408.3 226.4,409.2 226.1,410.0 225.8,410.8 225.6,411.7 225.3,412.5 225.0,413.4 224.8,414.3 224.5,415.1 224.3,416.0 224.0,416.8 223.8,417.6 223.5,418.4 223.3,419.2 223.1,420.0 222.9,420.8 222.7,421.5 222.5,422.2 222.3,423.0 222.1,423.7 221.9,424.4 221.7,425.1 221.5,425.7 221.4,426.3 221.2,426.9 221.1,427.5 221.0,428.0 220.9,428.5 220.8,428.9 220.8,429.3 220.7,429.7 220.7,430.0 220.6,430.4 220.6,430.6 220.6,430.9 220.6,431.1 220.5,431.3 220.5,431.5 220.5,431.7" fill="none" stroke="#ff0000" stroke-width="3.1" stroke-linejoin="round" stroke-linecap="round"/><circle cx="49.0" cy="461.0" r="2.1"/><circle cx="50.5" cy="459.2" r="2.1"/><circle cx="52.0" cy="457.1" r="2.1"/><circle cx="53.5" cy="454.9" r="2.1"/><circle cx="54.9" cy="452.8" r="2.1"/><circle cx="56.4" cy="450.7" r="2.1"/><circle cx="57.9" cy="448.6" r="2.1"/><circle cx="59.5" cy="446.5" r="2.1"/><circle cx="61.0" cy="444.4" r="2.1"/><circle cx="62.6" cy="442.3" r="2.1"/><circle cx="64.1" cy="440.2" r="2.1"/><circle cx="65.7" cy="438.1" r="2.1"/><circle cx="67.2" cy="436.0" r="2.1"/><circle cx="68.8" cy="433.9" r="2.1"/><circle cx="70.3" cy="431.8" r="2.1"/><circle cx="71.9" cy="429.8" r="2.1"/><circle cx="73.4" cy="427.7" r="2.1"/><circle cx="75.0" cy="425.6" r="2.1"/><circle cx="76.5" cy="423.5" r="2.1"/><circle cx="78.1" cy="421.4" r="2.1"/><circle cx="79.6" cy="419.3" r="2.1"/><circle cx="81.2" cy="417.3" r="2.1"/><circle cx="82.8" cy="415.2" r="2.1"/><circle cx="84.4" cy="413.2" r="2.1"/><circle cx="86.1" cy="411.2" r="2.1"/><circle cx="87.7" cy="409.1" r="2.1"/><circle cx="89.4" cy="407.1" r="2.1"/><circle cx="91.0" cy="405.1" r="2.1"/><circle cx="92.7" cy="403.1" r="2.1"/><circle cx="94.4" cy="401.1" r="2.1"/><circle cx="96.0" cy="399.1" r="2.1"/><circle cx="97.7" cy="397.1" r="2.1"/><circle cx="99.4" cy="395.1" r="2.1"/><circle cx="101.0" cy="393.2" r="2.1"/><circle cx="102.7" cy="391.2" r="2.1"/><circle cx="104.4" cy="389.2" r="2.1"/><circle cx="106.0" cy="387.2" r="2.1"/><circle cx="107.7" cy="385.1" r="2.1"/><circle cx="109.3" cy="383.1" r="2.1"/><circle cx="110.9" cy="381.1" r="2.1"/><circle cx="112.6" cy="379.1" r="2.1"/><circle cx="114.3" cy="377.2" r="2.1"/><circle cx="116.1" cy="375.2" r="2.1"/><circle cx="117.9" cy="373.3" r="2.1"/><circle cx="119.7" cy="371.5" r="2.1"/><circle cx="121.5" cy="369.7" r="2.1"/><circle cx="123.4" cy="367.8" r="2.1"/><circle cx="125.3" cy="366.0" r="2.1"/><circle cx="127.2" cy="364.3" r="2.1"/><circle cx="129.1" cy="362.5" r="2.1"/><circle cx="131.0" cy="360.8" r="2.1"/><circle cx="133.0" cy="359.1" r="2.1"/><circle cx="135.0" cy="357.4" r="2.1"/><circle cx="137.0" cy="355.7" r="2.1"/><circle cx="138.9" cy="354.0" r="2.1"/><circle cx="140.9" cy="352.3" r="2.1"/><circle cx="142.9" cy="350.6" r="2.1"/><circle cx="144.9" cy="349.0" r="2.1"/><circle cx="146.8" cy="347.3" r="2.1"/><circle cx="148.8" cy="345.6" r="2.1"/><circle cx="150.8" cy="343.9" r="2.1"/><circle cx="152.9" cy="342.3" r="2.1"/><circle cx="154.9" cy="340.7" r="2.1"/><circle cx="157.0" cy="339.2" r="2.1"/><circle cx="159.1" cy="337.7" r="2.1"/><circle cx="161.3" cy="336.2" r="2.1"/><circle cx="163.4" cy="334.7" r="2.1"/><circle cx="165.5" cy="333.2" r="2.1"/><circle cx="167.7" cy="331.8" r="2.1"/><circle cx="169.8" cy="330.3" r="2.1"/><circle cx="172.0" cy="328.8" r="2.1"/><circle cx="174.1" cy="327.4" r="2.1"/><circle cx="176.3" cy="325.9" r="2.1"/><circle cx="178.4" cy="324.4" r="2.1"/><circle cx="180.5" cy="322.9" r="2.1"/><circle cx="182.7" cy="321.4" r="2.1"/><circle cx="184.8" cy="319.9" r="2.1"/><circle cx="186.9" cy="318.4" r="2.1"/><circle cx="189.1" cy="317.0" r="2.1"/><circle cx="191.3" cy="315.7" r="2.1"/><circle cx="193.6" cy="314.4" r="2.1"/><circle cx="195.9" cy="313.1" r="2.1"/><circle cx="198.2" cy="311.9" r="2.1"/><circle cx="200.5" cy="310.8" r="2.1"/><circle cx="202.8" cy="309.6" r="2.1"/><circle cx="205.2" cy="308.5" r="2.1"/><circle cx="207.5" cy="307.5" r="2.1"/><circle cx="210.0" cy="306.5" r="2.1"/><circle cx="212.4" cy="305.6" r="2.1"/><circle cx="214.9" cy="304.8" r="2.1"/><circle cx="217.4" cy="304.2" r="2.1"/><circle cx="219.9" cy="303.6" r="2.1"/><circle cx="222.5" cy="303.2" r="2.1"/><circle cx="225.1" cy="303.0" r="2.1"/><circle cx="227.7" cy="302.9" r="2.1"/><circle cx="230.3" cy="303.0" r="2.1"/><circle cx="232.8" cy="303.5" r="2.1"/><circle cx="235.3" cy="304.3" r="2.1"/><circle cx="237.7" cy="305.4" r="2.1"/><circle cx="239.9" cy="306.7" r="2.1"/><circle cx="241.9" cy="308.3" r="2.1"/><circle cx="243.6" cy="310.3" r="2.1"/><circle cx="245.0" cy="312.5" r="2.1"/><circle cx="246.0" cy="314.9" r="2.1"/><circle cx="246.6" cy="317.4" r="2.1"/><circle cx="247.0" cy="320.0" r="2.1"/><circle cx="247.2" cy="322.6" r="2.1"/><circle cx="247.3" cy="325.2" r="2.1"/><circle cx="247.3" cy="327.8" r="2.1"/><circle cx="247.2" cy="330.4" r="2.1"/><circle cx="247.1" cy="333.0" r="2.1"/><circle cx="247.0" cy="335.6" r="2.1"/><circle cx="246.8" cy="338.2" r="2.1"/><circle cx="246.6" cy="340.8" r="2.1"/><circle cx="246.4" cy="343.4" r="2.1"/><circle cx="246.1" cy="345.9" r="2.1"/><circle cx="245.7" cy="348.5" r="2.1"/><circle cx="245.3" cy="351.1" r="2.1"/><circle cx="244.8" cy="353.6" r="2.1"/><circle cx="244.3" cy="356.2" r="2.1"/><circle cx="243.7" cy="358.7" r="2.1"/><circle cx="242.9" cy="361.2" r="2.1"/><circle cx="242.1" cy="363.7" r="2.1"/><circle cx="241.3" cy="366.1" r="2.1"/><circle cx="240.4" cy="368.6" r="2.1"/><circle cx="239.5" cy="371.0" r="2.1"/><circle cx="238.7" cy="373.5" r="2.1"/><circle cx="237.8" cy="375.9" r="2.1"/><circle cx="237.0" cy="378.4" r="2.1"/><circle cx="236.1" cy="380.8" r="2.1"/><circle cx="235.3" cy="383.3" r="2.1"/><circle cx="234.4" cy="385.8" r="2.1"/><circle cx="233.6" cy="388.2" r="2.1"/><circle cx="232.8" cy="390.7" r="2.1"/><circle cx="231.9" cy="393.2" r="2.1"/><circle cx="231.1" cy="395.6" r="2.1"/><circle cx="230.3" cy="398.1" r="2.1"/><circle cx="229.4" cy="400.5" r="2.1"/><circle cx="228.5" cy="403.0" r="2.1"/><circle cx="227.7" cy="405.4" r="2.1"/><circle cx="226.8" cy="407.9" r="2.1"/><circle cx="226.0" cy="410.4" r="2.1"/><circle cx="225.2" cy="412.8" r="2.1"/><circle cx="224.5" cy="415.3" r="2.1"/><circle cx="223.7" cy="417.8" r="2.1"/><circle cx="223.0" cy="420.3" r="2.1"/><circle cx="222.3" cy="422.8" r="2.1"/><circle cx="221.6" cy="425.3" r="2.1"/><circle cx="221.0" cy="427.9" r="2.1"/><circle cx="220.6" cy="430.4" r="2.1"/></g><rect x="53.6" y="261.6" width="94.1" height="34.5" fill="#fff" stroke="#999" stroke-width="1"/><line x1="55.1" y1="270.4" x2="85.6" y2="270.4" stroke="#0000ff" stroke-width="1.6"/><path d="M70.3 267.4L72.5 271.6L68.1 271.6Z" fill="#0000ff"/><line x1="55.1" y1="286.9" x2="85.6" y2="286.9" stroke="#ff0000" stroke-width="1.6"/><circle cx="70.3" cy="286.9" r="1.9" fill="#ff0000"/><text transform="translate(88.80,275.30) scale(1,1.070)" font-size="13.6" text-anchor="start" fill="#1a1a1a" >PSF - 1.7</text><text transform="translate(88.80,291.80) scale(1,1.070)" font-size="13.6" text-anchor="start" fill="#1a1a1a" >PSF - 1.5</text><text transform="translate(20.3,442.3) rotate(-90) scale(1,1.07)" font-size="15.3" font-weight="bold" fill="#1a1a1a">Power Density (W cm<tspan font-size="10" dy="-6">-2</tspan><tspan dy="6">)</tspan></text><text transform="translate(141.5,496.4) scale(1,1.05)" font-size="15" font-weight="bold" fill="#1a1a1a"><tspan font-style="italic">i</tspan> (A cm<tspan font-size="10" dy="-6">-2</tspan><tspan dy="6">)</tspan></text><path d="M49.0 506.8V712.3" stroke="#707070" stroke-width="1.8"/><path d="M301.4 506.8V712.3" stroke="#707070" stroke-width="1.8"/><path d="M49.0 507.7H301.4" stroke="#707070" stroke-width="1.8"/><path d="M49.0 711.4H301.4" stroke="#707070" stroke-width="1.8"/><path d="M49.0 711.4V715.4M67.0 711.4V713.4M85.1 711.4V715.4M103.1 711.4V713.4M121.1 711.4V715.4M139.1 711.4V713.4M157.2 711.4V715.4M175.2 711.4V713.4M193.2 711.4V715.4M211.3 711.4V713.4M229.3 711.4V715.4M247.3 711.4V713.4M265.3 711.4V715.4M283.4 711.4V713.4M301.4 711.4V715.4M49.0 711.4H45.0M49.0 692.9H47.0M49.0 674.4H45.0M49.0 655.8H47.0M49.0 637.3H45.0M49.0 618.8H47.0M49.0 600.3H45.0M49.0 581.8H47.0M49.0 563.3H45.0M49.0 544.7H47.0M49.0 526.2H45.0M49.0 507.7H47.0" stroke="#3a3a3a" stroke-width="1.1" fill="none"/><text transform="translate(49.00,728.70) scale(1,1.070)" font-size="13.0" text-anchor="middle" fill="#1a1a1a" >0.0</text><text transform="translate(85.06,728.70) scale(1,1.070)" font-size="13.0" text-anchor="middle" fill="#1a1a1a" >0.5</text><text transform="translate(121.11,728.70) scale(1,1.070)" font-size="13.0" text-anchor="middle" fill="#1a1a1a" >1.0</text><text transform="translate(157.17,728.70) scale(1,1.070)" font-size="13.0" text-anchor="middle" fill="#1a1a1a" >1.5</text><text transform="translate(193.23,728.70) scale(1,1.070)" font-size="13.0" text-anchor="middle" fill="#1a1a1a" >2.0</text><text transform="translate(229.29,728.70) scale(1,1.070)" font-size="13.0" text-anchor="middle" fill="#1a1a1a" >2.5</text><text transform="translate(265.34,728.70) scale(1,1.070)" font-size="13.0" text-anchor="middle" fill="#1a1a1a" >3.0</text><text transform="translate(301.40,728.70) scale(1,1.070)" font-size="13.0" text-anchor="middle" fill="#1a1a1a" >3.5</text><text transform="translate(42.00,716.30) scale(1,1.070)" font-size="13.0" text-anchor="end" fill="#1a1a1a" >0.0</text><text transform="translate(42.00,679.26) scale(1,1.070)" font-size="13.0" text-anchor="end" fill="#1a1a1a" >0.2</text><text transform="translate(42.00,642.23) scale(1,1.070)" font-size="13.0" text-anchor="end" fill="#1a1a1a" >0.4</text><text transform="translate(42.00,605.19) scale(1,1.070)" font-size="13.0" text-anchor="end" fill="#1a1a1a" >0.6</text><text transform="translate(42.00,568.15) scale(1,1.070)" font-size="13.0" text-anchor="end" fill="#1a1a1a" >0.8</text><text transform="translate(42.00,531.12) scale(1,1.070)" font-size="13.0" text-anchor="end" fill="#1a1a1a" >1.0</text><text transform="translate(0.80,520.60) scale(1,1.050)" font-size="14.5" text-anchor="start" fill="#1a1a1a" >(c)</text><g fill="#0000ff"><polyline points="49.5,541.0 49.6,541.3 49.7,541.6 49.9,542.1 50.0,542.6 50.2,543.1 50.4,543.6 50.6,544.2 50.8,544.7 51.1,545.2 51.4,545.7 51.7,546.1 52.0,546.5 52.4,546.8 52.8,547.1 53.3,547.3 53.9,547.5 54.5,547.7 55.0,547.8 55.6,548.0 56.2,548.1 56.7,548.2 57.2,548.3 57.6,548.4 58.0,548.5 58.3,548.6 58.5,548.6 58.6,548.6 58.7,548.6 58.7,548.6 58.8,548.5 58.8,548.5 58.9,548.4 59.0,548.4 59.2,548.4 59.6,548.4 60.0,548.5 60.6,548.6 61.2,548.7 61.9,548.8 62.7,549.0 63.6,549.1 64.5,549.3 65.4,549.5 66.4,549.6 67.3,549.8 68.2,550.0 69.1,550.1 70.0,550.3 70.8,550.4 71.6,550.6 72.3,550.7 73.0,550.8 73.7,550.9 74.4,551.0 75.1,551.1 75.9,551.3 76.8,551.4 77.8,551.6 78.8,551.8 80.0,552.0 81.3,552.3 82.6,552.5 84.1,552.8 85.6,553.2 87.1,553.5 88.8,553.8 90.5,554.2 92.2,554.6 94.1,554.9 96.0,555.3 98.0,555.7 100.0,556.0 102.1,556.3 104.4,556.7 106.8,557.0 109.3,557.4 111.8,557.7 114.4,558.1 117.0,558.4 119.6,558.8 122.3,559.1 124.9,559.4 127.5,559.8 130.0,560.1 132.5,560.4 135.0,560.8 137.5,561.1 140.0,561.4 142.5,561.7 145.0,562.1 147.5,562.4 150.0,562.7 152.5,563.0 155.0,563.3 157.5,563.6 160.0,563.9 162.5,564.2 165.1,564.4 167.6,564.7 170.2,564.9 172.8,565.2 175.3,565.4 177.9,565.7 180.4,565.9 182.9,566.1 185.3,566.4 187.7,566.6 190.0,566.9 192.3,567.2 194.6,567.5 197.0,567.8 199.3,568.1 201.5,568.4 203.8,568.7 205.9,569.0 208.0,569.3 209.9,569.6 211.8,569.9 213.5,570.2 215.0,570.4 216.4,570.6 217.5,570.8 218.6,571.0 219.4,571.1 220.2,571.3 220.9,571.4 221.6,571.5 222.2,571.7 222.9,571.8 223.5,571.9 224.2,572.1 225.0,572.3 225.8,572.5 226.7,572.7 227.5,572.9 228.3,573.1 229.2,573.4 230.0,573.6 230.8,573.8 231.7,574.1 232.5,574.3 233.3,574.6 234.2,574.8 235.0,575.1 235.8,575.4 236.7,575.7 237.5,575.9 238.3,576.2 239.2,576.5 240.0,576.9 240.8,577.2 241.7,577.5 242.5,577.8 243.3,578.2 244.2,578.5 245.0,578.9 245.8,579.3 246.7,579.7 247.6,580.1 248.4,580.5 249.3,580.9 250.2,581.4 251.0,581.8 251.9,582.3 252.7,582.7 253.5,583.1 254.3,583.6 255.0,584.0 255.7,584.4 256.4,584.8 257.0,585.3 257.6,585.7 258.2,586.1 258.8,586.5 259.4,587.0 259.9,587.4 260.5,587.8 261.0,588.2 261.5,588.7 262.0,589.1 262.5,589.5 263.0,590.0 263.4,590.4 263.9,590.8 264.4,591.3 264.8,591.7 265.2,592.1 265.6,592.6 266.0,593.0 266.3,593.4 266.7,593.9 267.0,594.3 267.3,594.7 267.6,595.1 267.8,595.6 268.1,596.0 268.3,596.4 268.5,596.8 268.7,597.2 268.9,597.7 269.1,598.1 269.2,598.5 269.4,599.0 269.5,599.4 269.6,599.9 269.7,600.4 269.8,600.9 269.9,601.5 270.0,602.1 270.0,602.6 270.0,603.2 270.1,603.7 270.1,604.1 270.1,604.6 270.2,604.9 270.2,605.2" fill="none" stroke="#0000ff" stroke-width="1.3" stroke-linejoin="round"/><path d="M49.5 538.1L52.1 542.9L46.9 542.9ZM50.9 542.1L53.5 546.9L48.3 546.9ZM54.2 544.7L56.8 549.5L51.6 549.5ZM58.3 545.7L60.9 550.5L55.7 550.5ZM62.5 546.0L65.1 550.8L59.9 550.8ZM66.7 546.8L69.3 551.6L64.1 551.6ZM71.1 547.6L73.7 552.4L68.5 552.4ZM75.4 548.3L78.0 553.1L72.8 553.1ZM79.7 549.1L82.3 553.9L77.1 553.9ZM84.1 550.0L86.7 554.8L81.5 554.8ZM88.2 550.9L90.8 555.7L85.6 555.7ZM92.5 551.7L95.1 556.5L89.9 556.5ZM96.7 552.6L99.3 557.4L94.1 557.4ZM101.1 553.3L103.7 558.1L98.5 558.1ZM105.5 554.0L108.1 558.8L102.9 558.8ZM109.8 554.6L112.4 559.4L107.2 559.4ZM114.1 555.1L116.7 559.9L111.5 559.9ZM118.3 555.7L120.9 560.5L115.7 560.5ZM122.5 556.2L125.1 561.0L119.9 561.0ZM126.7 556.8L129.3 561.6L124.1 561.6ZM131.0 557.4L133.6 562.2L128.4 562.2ZM135.2 557.9L137.8 562.7L132.7 562.7ZM139.5 558.5L142.1 563.3L136.9 563.3ZM143.8 559.0L146.3 563.8L141.2 563.8ZM148.0 559.6L150.6 564.4L145.4 564.4ZM152.2 560.1L154.8 564.9L149.7 564.9ZM156.5 560.6L159.1 565.4L153.9 565.4ZM160.8 561.1L163.4 565.9L158.2 565.9ZM165.1 561.6L167.7 566.4L162.5 566.4ZM169.4 562.0L172.0 566.8L166.8 566.8ZM173.8 562.4L176.4 567.2L171.2 567.2ZM178.1 562.8L180.7 567.6L175.5 567.6ZM182.3 563.2L184.9 568.0L179.7 568.0ZM186.6 563.6L189.2 568.4L184.0 568.4ZM191.0 564.1L193.6 568.9L188.4 568.9ZM195.4 564.7L198.0 569.5L192.8 569.5ZM199.8 565.3L202.4 570.1L197.2 570.1ZM204.0 565.9L206.6 570.7L201.4 570.7ZM208.2 566.5L210.8 571.3L205.6 571.3ZM212.0 567.1L214.6 571.9L209.4 571.9ZM215.3 567.6L217.9 572.4L212.7 572.4ZM218.3 568.0L220.9 572.8L215.7 572.8ZM220.2 568.4L222.8 573.2L217.6 573.2ZM221.9 568.7L224.5 573.5L219.3 573.5ZM223.5 569.1L226.1 573.9L220.9 573.9ZM225.0 569.4L227.6 574.2L222.4 574.2ZM226.4 569.8L229.0 574.6L223.8 574.6ZM227.8 570.1L230.4 574.9L225.2 574.9ZM229.2 570.5L231.8 575.3L226.6 575.3ZM230.6 570.9L233.2 575.7L228.0 575.7ZM231.9 571.3L234.5 576.1L229.3 576.1ZM233.3 571.7L235.9 576.5L230.7 576.5ZM234.7 572.1L237.3 576.9L232.1 576.9ZM236.1 572.6L238.7 577.4L233.5 577.4ZM237.5 573.1L240.1 577.9L234.9 577.9ZM238.9 573.6L241.5 578.4L236.3 578.4ZM240.3 574.1L242.9 578.9L237.7 578.9ZM241.7 574.6L244.3 579.4L239.1 579.4ZM243.1 575.2L245.7 580.0L240.5 580.0ZM244.4 575.8L247.0 580.6L241.8 580.6ZM245.8 576.4L248.4 581.2L243.2 581.2ZM247.3 577.1L249.9 581.9L244.7 581.9ZM248.7 577.8L251.3 582.6L246.1 582.6ZM250.2 578.5L252.8 583.3L247.6 583.3ZM251.6 579.2L254.2 584.0L249.0 584.0ZM253.0 580.0L255.6 584.8L250.4 584.8ZM254.3 580.7L256.9 585.5L251.7 585.5ZM255.7 581.5L258.3 586.3L253.1 586.3ZM257.0 582.4L259.6 587.2L254.4 587.2ZM258.2 583.2L260.8 588.0L255.6 588.0ZM259.4 584.1L262.0 588.9L256.8 588.9ZM260.7 585.2L263.3 590.0L258.1 590.0ZM262.0 586.2L264.6 591.0L259.4 591.0ZM263.2 587.3L265.8 592.1L260.6 592.1ZM264.4 588.4L267.0 593.2L261.8 593.2ZM265.4 589.5L268.0 594.3L262.8 594.3ZM266.3 590.6L268.9 595.4L263.7 595.4ZM267.3 591.8L269.9 596.6L264.7 596.6ZM268.1 593.1L270.7 597.9L265.5 597.9ZM268.9 594.8L271.5 599.6L266.3 599.6ZM269.5 596.5L272.1 601.3L266.9 601.3ZM269.8 598.1L272.4 602.9L267.2 602.9ZM270.0 599.5L272.6 604.3L267.4 604.3ZM270.1 601.3L272.7 606.1L267.5 606.1Z"/></g><polygon points="49.5,517.5 50.3,516.6 51.5,517.3 52.0,521.0 52.0,528.0 53.5,530.0 54.5,533.0 55.5,537.0 56.5,541.0 57.5,545.0 58.5,547.5 60.0,547.5 60.3,552.0 59.5,554.0 58.0,553.8 55.0,551.2 52.0,548.2 49.5,545.5" fill="#ff0000"/><g fill="#ff0000"><polyline points="58.0,550.0 58.1,550.0 58.1,550.0 58.2,550.0 58.2,549.9 58.3,549.9 58.4,549.9 58.5,549.9 58.7,549.9 58.9,549.9 59.2,549.9 59.5,549.9 60.0,550.0 60.6,550.1 61.2,550.2 61.9,550.3 62.7,550.5 63.6,550.6 64.5,550.8 65.4,551.0 66.4,551.2 67.3,551.3 68.2,551.5 69.1,551.7 70.0,551.8 70.8,551.9 71.7,552.0 72.5,552.2 73.3,552.3 74.2,552.4 75.0,552.5 75.8,552.6 76.7,552.7 77.5,552.8 78.3,552.9 79.2,553.1 80.0,553.2 80.8,553.4 81.7,553.5 82.5,553.7 83.3,553.9 84.2,554.1 85.0,554.3 85.8,554.5 86.7,554.7 87.5,554.8 88.3,555.0 89.2,555.2 90.0,555.4 90.8,555.6 91.4,555.7 92.0,555.9 92.6,556.0 93.2,556.1 93.8,556.3 94.4,556.4 95.2,556.6 96.1,556.7 97.2,556.9 98.5,557.1 100.0,557.4 101.8,557.7 103.8,558.0 106.1,558.3 108.5,558.7 111.1,559.1 113.8,559.5 116.5,559.9 119.3,560.3 122.0,560.7 124.8,561.1 127.4,561.5 130.0,561.8 132.5,562.1 135.0,562.5 137.5,562.8 140.0,563.1 142.5,563.4 145.0,563.7 147.5,564.0 150.0,564.3 152.5,564.6 155.0,564.9 157.5,565.2 160.0,565.5 162.5,565.8 165.1,566.1 167.6,566.4 170.2,566.7 172.8,567.1 175.3,567.4 177.9,567.7 180.4,568.0 182.9,568.3 185.3,568.7 187.7,569.0 190.0,569.4 192.3,569.8 194.6,570.2 197.0,570.7 199.3,571.1 201.5,571.6 203.8,572.0 205.9,572.5 208.0,573.0 209.9,573.4 211.8,573.8 213.5,574.2 215.0,574.5 216.4,574.8 217.5,575.0 218.6,575.2 219.4,575.4 220.2,575.6 220.9,575.8 221.6,575.9 222.2,576.1 222.9,576.2 223.5,576.4 224.2,576.6 225.0,576.8 225.8,577.0 226.7,577.3 227.6,577.6 228.5,577.9 229.4,578.2 230.3,578.5 231.2,578.8 232.0,579.1 232.9,579.4 233.6,579.6 234.3,579.9 235.0,580.2 235.6,580.5 236.1,580.7 236.6,580.9 237.1,581.2 237.5,581.4 237.8,581.6 238.2,581.8 238.6,582.1 238.9,582.3 239.3,582.6 239.6,582.8 240.0,583.1 240.4,583.4 240.8,583.7 241.2,584.0 241.6,584.4 242.0,584.7 242.4,585.0 242.8,585.4 243.2,585.7 243.5,586.1 243.9,586.4 244.2,586.8 244.5,587.1 244.8,587.4 245.1,587.7 245.3,588.0 245.5,588.3 245.8,588.6 246.0,588.9 246.2,589.2 246.4,589.6 246.5,589.9 246.7,590.2 246.9,590.6 247.0,591.0 247.1,591.4 247.3,591.9 247.4,592.5 247.5,593.0 247.5,593.6 247.6,594.2 247.7,594.8 247.7,595.3 247.8,595.8 247.8,596.2 247.9,596.6 247.9,596.9" fill="none" stroke="#ff0000" stroke-width="3.5" stroke-linejoin="round" stroke-linecap="round"/><circle cx="58.0" cy="550.0" r="2.3"/><circle cx="60.6" cy="550.1" r="2.3"/><circle cx="63.1" cy="550.6" r="2.3"/><circle cx="65.7" cy="551.0" r="2.3"/><circle cx="68.2" cy="551.5" r="2.3"/><circle cx="70.8" cy="551.9" r="2.3"/><circle cx="73.4" cy="552.3" r="2.3"/><circle cx="76.0" cy="552.6" r="2.3"/><circle cx="78.5" cy="553.0" r="2.3"/><circle cx="81.1" cy="553.4" r="2.3"/><circle cx="83.6" cy="553.9" r="2.3"/><circle cx="86.2" cy="554.5" r="2.3"/><circle cx="88.7" cy="555.1" r="2.3"/><circle cx="91.2" cy="555.7" r="2.3"/><circle cx="93.8" cy="556.3" r="2.3"/><circle cx="96.3" cy="556.8" r="2.3"/><circle cx="98.9" cy="557.2" r="2.3"/><circle cx="101.5" cy="557.6" r="2.3"/><circle cx="104.0" cy="558.0" r="2.3"/><circle cx="106.6" cy="558.4" r="2.3"/><circle cx="109.2" cy="558.8" r="2.3"/><circle cx="111.7" cy="559.2" r="2.3"/><circle cx="114.3" cy="559.6" r="2.3"/><circle cx="116.9" cy="560.0" r="2.3"/><circle cx="119.5" cy="560.3" r="2.3"/><circle cx="122.0" cy="560.7" r="2.3"/><circle cx="124.6" cy="561.1" r="2.3"/><circle cx="127.2" cy="561.4" r="2.3"/><circle cx="129.8" cy="561.8" r="2.3"/><circle cx="132.3" cy="562.1" r="2.3"/><circle cx="134.9" cy="562.4" r="2.3"/><circle cx="137.5" cy="562.8" r="2.3"/><circle cx="140.1" cy="563.1" r="2.3"/><circle cx="142.6" cy="563.4" r="2.3"/><circle cx="145.2" cy="563.7" r="2.3"/><circle cx="147.8" cy="564.0" r="2.3"/><circle cx="150.4" cy="564.3" r="2.3"/><circle cx="153.0" cy="564.6" r="2.3"/><circle cx="155.6" cy="564.9" r="2.3"/><circle cx="158.1" cy="565.3" r="2.3"/><circle cx="160.7" cy="565.6" r="2.3"/><circle cx="163.3" cy="565.9" r="2.3"/><circle cx="165.9" cy="566.2" r="2.3"/><circle cx="168.5" cy="566.5" r="2.3"/><circle cx="171.0" cy="566.8" r="2.3"/><circle cx="173.6" cy="567.2" r="2.3"/><circle cx="176.2" cy="567.5" r="2.3"/><circle cx="178.8" cy="567.8" r="2.3"/><circle cx="181.4" cy="568.1" r="2.3"/><circle cx="183.9" cy="568.5" r="2.3"/><circle cx="186.5" cy="568.9" r="2.3"/><circle cx="189.1" cy="569.3" r="2.3"/><circle cx="191.6" cy="569.7" r="2.3"/><circle cx="194.2" cy="570.1" r="2.3"/><circle cx="196.8" cy="570.6" r="2.3"/><circle cx="199.3" cy="571.1" r="2.3"/><circle cx="201.9" cy="571.7" r="2.3"/><circle cx="204.4" cy="572.2" r="2.3"/><circle cx="206.9" cy="572.7" r="2.3"/><circle cx="209.5" cy="573.3" r="2.3"/><circle cx="212.0" cy="573.9" r="2.3"/><circle cx="214.6" cy="574.4" r="2.3"/><circle cx="217.1" cy="574.9" r="2.3"/><circle cx="219.6" cy="575.5" r="2.3"/><circle cx="222.2" cy="576.0" r="2.3"/><circle cx="224.7" cy="576.7" r="2.3"/><circle cx="227.2" cy="577.5" r="2.3"/><circle cx="229.7" cy="578.2" r="2.3"/><circle cx="232.1" cy="579.1" r="2.3"/><circle cx="234.6" cy="580.0" r="2.3"/><circle cx="236.9" cy="581.1" r="2.3"/><circle cx="239.1" cy="582.5" r="2.3"/><circle cx="241.2" cy="584.0" r="2.3"/><circle cx="243.2" cy="585.7" r="2.3"/><circle cx="245.0" cy="587.6" r="2.3"/><circle cx="246.5" cy="589.7" r="2.3"/><circle cx="247.3" cy="592.2" r="2.3"/><circle cx="247.7" cy="594.8" r="2.3"/></g><rect x="200.4" y="511.0" width="97.6" height="35.0" fill="#fff" stroke="#999" stroke-width="1"/><line x1="201.9" y1="519.8" x2="232.4" y2="519.8" stroke="#0000ff" stroke-width="1.6"/><path d="M217.2 516.8L219.3 521.0L215.0 521.0Z" fill="#0000ff"/><line x1="201.9" y1="536.3" x2="232.4" y2="536.3" stroke="#ff0000" stroke-width="1.6"/><circle cx="217.2" cy="536.3" r="1.9" fill="#ff0000"/><text transform="translate(235.60,524.70) scale(1,1.070)" font-size="13.6" text-anchor="start" fill="#1a1a1a" >PSF - 1.7</text><text transform="translate(235.60,541.20) scale(1,1.070)" font-size="13.6" text-anchor="start" fill="#1a1a1a" >PSF - 1.5</text><text transform="translate(16.8,648.8) rotate(-90)" font-size="15" font-weight="bold" fill="#1a1a1a">E<tspan font-size="9.6" dy="4.8" letter-spacing="0.3">HFR-free</tspan><tspan dy="-4.8"> (V)</tspan></text><text transform="translate(142.6,745.2) scale(1,1.05)" font-size="15" font-weight="bold" fill="#1a1a1a"><tspan font-style="italic">i</tspan> (A cm<tspan font-size="10" dy="-6">-2</tspan><tspan dy="6">)</tspan></text></svg></body></html>
